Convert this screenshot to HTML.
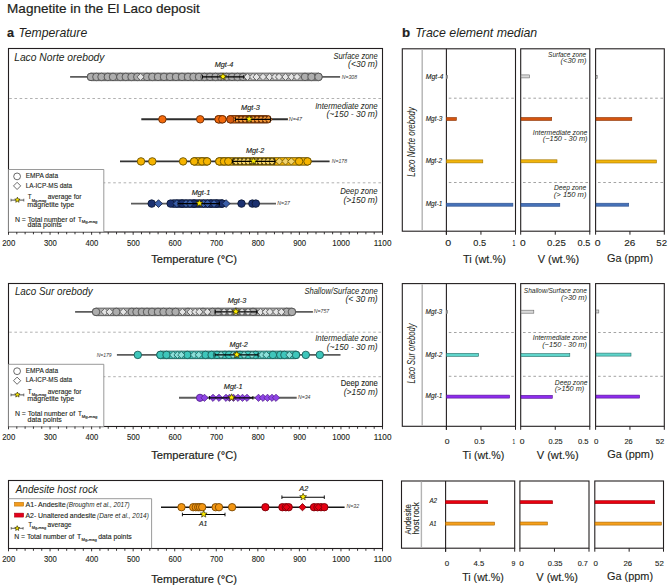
<!DOCTYPE html><html><head><meta charset="utf-8"><style>html,body{margin:0;padding:0;background:#fff;}svg{display:block;}</style></head><body><svg width="668" height="587" viewBox="0 0 668 587" font-family='"Liberation Sans", sans-serif'>
<rect width="668" height="587" fill="#fff"/>
<text x="7.09" y="12.60" font-size="13.2" text-anchor="start" textLength="192.61" lengthAdjust="spacingAndGlyphs" fill="#231f20" stroke="#231f20" stroke-width="0.2" >Magnetite in the El Laco deposit</text>
<text x="7.13" y="36.70" font-size="12.5" text-anchor="start" font-weight="bold" textLength="6.99" lengthAdjust="spacingAndGlyphs" fill="#231f20" stroke="#231f20" stroke-width="0.2" >a</text>
<text x="18.42" y="36.70" font-size="13" text-anchor="start" font-style="italic" textLength="68.83" lengthAdjust="spacingAndGlyphs" fill="#231f20" >Temperature</text>
<text x="402.02" y="36.80" font-size="12.5" text-anchor="start" font-weight="bold" textLength="8.12" lengthAdjust="spacingAndGlyphs" fill="#231f20" stroke="#231f20" stroke-width="0.2" >b</text>
<text x="415.20" y="36.50" font-size="13" text-anchor="start" font-style="italic" textLength="121.96" lengthAdjust="spacingAndGlyphs" fill="#231f20" >Trace element median</text>
<rect x="8.50" y="48.50" width="374.00" height="183.50" fill="none" stroke="#231f20" stroke-width="1.1" />
<text x="14.18" y="61.30" font-size="11.3" text-anchor="start" font-style="italic" textLength="90.30" lengthAdjust="spacingAndGlyphs" fill="#231f20" >Laco Norte orebody</text>
<line x1="9.20" y1="98.50" x2="382.00" y2="98.50" stroke="#9d9d9d" stroke-width="0.8" stroke-dasharray="2.6 2.6"/>
<line x1="9.20" y1="182.80" x2="382.00" y2="182.80" stroke="#9d9d9d" stroke-width="0.8" stroke-dasharray="2.6 2.6"/>
<text x="377.70" y="59.00" font-size="8.4" text-anchor="end" font-style="italic" textLength="44.30" lengthAdjust="spacingAndGlyphs" fill="#231f20" >Surface zone</text>
<text x="377.70" y="67.40" font-size="8.4" text-anchor="end" font-style="italic" textLength="29.60" lengthAdjust="spacingAndGlyphs" fill="#231f20" >(&lt;30 m)</text>
<text x="377.70" y="109.00" font-size="8.4" text-anchor="end" font-style="italic" textLength="62.50" lengthAdjust="spacingAndGlyphs" fill="#231f20" >Intermediate zone</text>
<text x="377.70" y="117.40" font-size="8.4" text-anchor="end" font-style="italic" textLength="51.30" lengthAdjust="spacingAndGlyphs" fill="#231f20" >(~150 - 30 m)</text>
<text x="377.70" y="193.80" font-size="8.4" text-anchor="end" font-style="italic" textLength="37.50" lengthAdjust="spacingAndGlyphs" fill="#231f20" >Deep zone</text>
<text x="377.70" y="202.60" font-size="8.4" text-anchor="end" font-style="italic" textLength="34.30" lengthAdjust="spacingAndGlyphs" fill="#231f20" >(&gt;150 m)</text>
<path d="M8.5 169.50 H103.8 V232.00 H8.5Z" fill="#fff" stroke="#808080" stroke-width="0.8"/>
<circle cx="17.10" cy="176.40" r="3.40" fill="#fff" stroke="#3a3a3a" stroke-width="0.75"/>
<path d="M13.50 185.90L17.10 182.30L20.70 185.90L17.10 189.50Z" fill="#fff" stroke="#3a3a3a" stroke-width="0.75"/>
<line x1="11.00" y1="200.10" x2="23.80" y2="200.10" stroke="#3a3a3a" stroke-width="0.9" />
<line x1="11.00" y1="198.70" x2="11.00" y2="201.50" stroke="#3a3a3a" stroke-width="0.7" />
<line x1="23.80" y1="198.70" x2="23.80" y2="201.50" stroke="#3a3a3a" stroke-width="0.7" />
<polygon points="17.40,197.20 18.14,198.98 20.06,199.13 18.60,200.39 19.05,202.27 17.40,201.26 15.75,202.27 16.20,200.39 14.74,199.13 16.66,198.98" fill="#ffee00" stroke="#3a3300" stroke-width="0.7"/>
<text x="25.67" y="177.90" font-size="7.2" text-anchor="start" textLength="32.43" lengthAdjust="spacingAndGlyphs" fill="#231f20" stroke="#231f20" stroke-width="0.12" >EMPA data</text>
<text x="25.68" y="187.50" font-size="7.2" text-anchor="start" textLength="46.42" lengthAdjust="spacingAndGlyphs" fill="#231f20" stroke="#231f20" stroke-width="0.12" >LA-ICP-MS data</text>
<text x="27.66" y="199.10" font-size="7.2" text-anchor="start" textLength="3.89" lengthAdjust="spacingAndGlyphs" fill="#231f20" stroke="#231f20" stroke-width="0.12" >T</text>
<text x="31.67" y="201.50" font-size="3.6" text-anchor="start" textLength="14.69" lengthAdjust="spacingAndGlyphs" fill="#231f20" stroke="#231f20" stroke-width="0.12" >Mg-mag</text>
<text x="47.82" y="199.10" font-size="7.2" text-anchor="start" textLength="33.59" lengthAdjust="spacingAndGlyphs" fill="#231f20" stroke="#231f20" stroke-width="0.12" >average for</text>
<text x="27.33" y="206.50" font-size="7.2" text-anchor="start" textLength="46.89" lengthAdjust="spacingAndGlyphs" fill="#231f20" stroke="#231f20" stroke-width="0.12" >magnetite type</text>
<text x="14.94" y="221.60" font-size="7.2" text-anchor="start" textLength="60.15" lengthAdjust="spacingAndGlyphs" fill="#231f20" stroke="#231f20" stroke-width="0.12" >N = Total number of</text>
<text x="77.96" y="221.60" font-size="7.2" text-anchor="start" textLength="3.89" lengthAdjust="spacingAndGlyphs" fill="#231f20" stroke="#231f20" stroke-width="0.12" >T</text>
<text x="81.75" y="223.40" font-size="3.6" text-anchor="start" textLength="15.62" lengthAdjust="spacingAndGlyphs" fill="#231f20" stroke="#231f20" stroke-width="0.12" >Mg-mag</text>
<text x="27.51" y="227.00" font-size="7.2" text-anchor="start" textLength="34.35" lengthAdjust="spacingAndGlyphs" fill="#231f20" stroke="#231f20" stroke-width="0.12" >data points</text>
<line x1="8.50" y1="232.00" x2="8.50" y2="234.80" stroke="#231f20" stroke-width="0.9" />
<line x1="16.81" y1="232.00" x2="16.81" y2="234.30" stroke="#231f20" stroke-width="0.9" />
<line x1="25.12" y1="232.00" x2="25.12" y2="234.30" stroke="#231f20" stroke-width="0.9" />
<line x1="33.43" y1="232.00" x2="33.43" y2="234.30" stroke="#231f20" stroke-width="0.9" />
<line x1="41.74" y1="232.00" x2="41.74" y2="234.30" stroke="#231f20" stroke-width="0.9" />
<line x1="50.06" y1="232.00" x2="50.06" y2="234.80" stroke="#231f20" stroke-width="0.9" />
<line x1="58.37" y1="232.00" x2="58.37" y2="234.30" stroke="#231f20" stroke-width="0.9" />
<line x1="66.68" y1="232.00" x2="66.68" y2="234.30" stroke="#231f20" stroke-width="0.9" />
<line x1="74.99" y1="232.00" x2="74.99" y2="234.30" stroke="#231f20" stroke-width="0.9" />
<line x1="83.30" y1="232.00" x2="83.30" y2="234.30" stroke="#231f20" stroke-width="0.9" />
<line x1="91.61" y1="232.00" x2="91.61" y2="234.80" stroke="#231f20" stroke-width="0.9" />
<line x1="99.92" y1="232.00" x2="99.92" y2="234.30" stroke="#231f20" stroke-width="0.9" />
<line x1="108.23" y1="232.00" x2="108.23" y2="234.30" stroke="#231f20" stroke-width="0.9" />
<line x1="116.54" y1="232.00" x2="116.54" y2="234.30" stroke="#231f20" stroke-width="0.9" />
<line x1="124.86" y1="232.00" x2="124.86" y2="234.30" stroke="#231f20" stroke-width="0.9" />
<line x1="133.17" y1="232.00" x2="133.17" y2="234.80" stroke="#231f20" stroke-width="0.9" />
<line x1="141.48" y1="232.00" x2="141.48" y2="234.30" stroke="#231f20" stroke-width="0.9" />
<line x1="149.79" y1="232.00" x2="149.79" y2="234.30" stroke="#231f20" stroke-width="0.9" />
<line x1="158.10" y1="232.00" x2="158.10" y2="234.30" stroke="#231f20" stroke-width="0.9" />
<line x1="166.41" y1="232.00" x2="166.41" y2="234.30" stroke="#231f20" stroke-width="0.9" />
<line x1="174.72" y1="232.00" x2="174.72" y2="234.80" stroke="#231f20" stroke-width="0.9" />
<line x1="183.03" y1="232.00" x2="183.03" y2="234.30" stroke="#231f20" stroke-width="0.9" />
<line x1="191.34" y1="232.00" x2="191.34" y2="234.30" stroke="#231f20" stroke-width="0.9" />
<line x1="199.66" y1="232.00" x2="199.66" y2="234.30" stroke="#231f20" stroke-width="0.9" />
<line x1="207.97" y1="232.00" x2="207.97" y2="234.30" stroke="#231f20" stroke-width="0.9" />
<line x1="216.28" y1="232.00" x2="216.28" y2="234.80" stroke="#231f20" stroke-width="0.9" />
<line x1="224.59" y1="232.00" x2="224.59" y2="234.30" stroke="#231f20" stroke-width="0.9" />
<line x1="232.90" y1="232.00" x2="232.90" y2="234.30" stroke="#231f20" stroke-width="0.9" />
<line x1="241.21" y1="232.00" x2="241.21" y2="234.30" stroke="#231f20" stroke-width="0.9" />
<line x1="249.52" y1="232.00" x2="249.52" y2="234.30" stroke="#231f20" stroke-width="0.9" />
<line x1="257.83" y1="232.00" x2="257.83" y2="234.80" stroke="#231f20" stroke-width="0.9" />
<line x1="266.14" y1="232.00" x2="266.14" y2="234.30" stroke="#231f20" stroke-width="0.9" />
<line x1="274.46" y1="232.00" x2="274.46" y2="234.30" stroke="#231f20" stroke-width="0.9" />
<line x1="282.77" y1="232.00" x2="282.77" y2="234.30" stroke="#231f20" stroke-width="0.9" />
<line x1="291.08" y1="232.00" x2="291.08" y2="234.30" stroke="#231f20" stroke-width="0.9" />
<line x1="299.39" y1="232.00" x2="299.39" y2="234.80" stroke="#231f20" stroke-width="0.9" />
<line x1="307.70" y1="232.00" x2="307.70" y2="234.30" stroke="#231f20" stroke-width="0.9" />
<line x1="316.01" y1="232.00" x2="316.01" y2="234.30" stroke="#231f20" stroke-width="0.9" />
<line x1="324.32" y1="232.00" x2="324.32" y2="234.30" stroke="#231f20" stroke-width="0.9" />
<line x1="332.63" y1="232.00" x2="332.63" y2="234.30" stroke="#231f20" stroke-width="0.9" />
<line x1="340.94" y1="232.00" x2="340.94" y2="234.80" stroke="#231f20" stroke-width="0.9" />
<line x1="349.26" y1="232.00" x2="349.26" y2="234.30" stroke="#231f20" stroke-width="0.9" />
<line x1="357.57" y1="232.00" x2="357.57" y2="234.30" stroke="#231f20" stroke-width="0.9" />
<line x1="365.88" y1="232.00" x2="365.88" y2="234.30" stroke="#231f20" stroke-width="0.9" />
<line x1="374.19" y1="232.00" x2="374.19" y2="234.30" stroke="#231f20" stroke-width="0.9" />
<line x1="382.50" y1="232.00" x2="382.50" y2="234.80" stroke="#231f20" stroke-width="0.9" />
<text x="2.26" y="246.40" font-size="8.6" text-anchor="start" textLength="13.00" lengthAdjust="spacingAndGlyphs" fill="#231f20" stroke="#231f20" stroke-width="0.12" >200</text>
<text x="43.91" y="246.40" font-size="8.6" text-anchor="start" textLength="12.90" lengthAdjust="spacingAndGlyphs" fill="#231f20" stroke="#231f20" stroke-width="0.12" >300</text>
<text x="85.59" y="246.40" font-size="8.6" text-anchor="start" textLength="12.77" lengthAdjust="spacingAndGlyphs" fill="#231f20" stroke="#231f20" stroke-width="0.12" >400</text>
<text x="127.01" y="246.40" font-size="8.6" text-anchor="start" textLength="12.91" lengthAdjust="spacingAndGlyphs" fill="#231f20" stroke="#231f20" stroke-width="0.12" >500</text>
<text x="168.48" y="246.40" font-size="8.6" text-anchor="start" textLength="13.00" lengthAdjust="spacingAndGlyphs" fill="#231f20" stroke="#231f20" stroke-width="0.12" >600</text>
<text x="210.03" y="246.40" font-size="8.6" text-anchor="start" textLength="13.00" lengthAdjust="spacingAndGlyphs" fill="#231f20" stroke="#231f20" stroke-width="0.12" >700</text>
<text x="251.65" y="246.40" font-size="8.6" text-anchor="start" textLength="12.94" lengthAdjust="spacingAndGlyphs" fill="#231f20" stroke="#231f20" stroke-width="0.12" >800</text>
<text x="293.17" y="246.40" font-size="8.6" text-anchor="start" textLength="12.97" lengthAdjust="spacingAndGlyphs" fill="#231f20" stroke="#231f20" stroke-width="0.12" >900</text>
<text x="332.29" y="246.40" font-size="8.6" text-anchor="start" textLength="17.61" lengthAdjust="spacingAndGlyphs" fill="#231f20" stroke="#231f20" stroke-width="0.12" >1000</text>
<text x="373.85" y="246.40" font-size="8.6" text-anchor="start" textLength="17.61" lengthAdjust="spacingAndGlyphs" fill="#231f20" stroke="#231f20" stroke-width="0.12" >1100</text>
<text x="151.15" y="263.20" font-size="11.6" text-anchor="start" textLength="85.93" lengthAdjust="spacingAndGlyphs" fill="#231f20" stroke="#231f20" stroke-width="0.2" >Temperature (°C)</text>
<rect x="8.50" y="283.50" width="374.00" height="143.00" fill="none" stroke="#231f20" stroke-width="1.1" />
<text x="14.90" y="295.20" font-size="11.3" text-anchor="start" font-style="italic" textLength="77.71" lengthAdjust="spacingAndGlyphs" fill="#231f20" >Laco Sur orebody</text>
<line x1="9.20" y1="332.20" x2="382.00" y2="332.20" stroke="#9d9d9d" stroke-width="0.8" stroke-dasharray="2.6 2.6"/>
<line x1="9.20" y1="376.70" x2="382.00" y2="376.70" stroke="#9d9d9d" stroke-width="0.8" stroke-dasharray="2.6 2.6"/>
<text x="377.70" y="294.20" font-size="8.4" text-anchor="end" font-style="italic" textLength="73.30" lengthAdjust="spacingAndGlyphs" fill="#231f20" >Shallow/Surface zone</text>
<text x="377.70" y="301.90" font-size="8.4" text-anchor="end" font-style="italic" textLength="32.20" lengthAdjust="spacingAndGlyphs" fill="#231f20" >(&lt; 30 m)</text>
<text x="377.70" y="341.40" font-size="8.4" text-anchor="end" font-style="italic" textLength="62.50" lengthAdjust="spacingAndGlyphs" fill="#231f20" >Intermediate zone</text>
<text x="377.70" y="350.20" font-size="8.4" text-anchor="end" font-style="italic" textLength="51.00" lengthAdjust="spacingAndGlyphs" fill="#231f20" >(~150 - 30 m)</text>
<text x="377.70" y="394.70" font-size="8.4" text-anchor="end" font-style="italic" textLength="33.90" lengthAdjust="spacingAndGlyphs" fill="#231f20" >(&gt;150 m)</text>
<text x="377.70" y="386.10" font-size="8.4" text-anchor="end" textLength="36.90" lengthAdjust="spacingAndGlyphs" fill="#231f20" stroke="#231f20" stroke-width="0.12" >Deep zone</text>
<path d="M8.5 364.30 H103.8 V426.80 H8.5Z" fill="#fff" stroke="#808080" stroke-width="0.8"/>
<circle cx="17.10" cy="371.20" r="3.40" fill="#fff" stroke="#3a3a3a" stroke-width="0.75"/>
<path d="M13.50 380.70L17.10 377.10L20.70 380.70L17.10 384.30Z" fill="#fff" stroke="#3a3a3a" stroke-width="0.75"/>
<line x1="11.00" y1="394.90" x2="23.80" y2="394.90" stroke="#3a3a3a" stroke-width="0.9" />
<line x1="11.00" y1="393.50" x2="11.00" y2="396.30" stroke="#3a3a3a" stroke-width="0.7" />
<line x1="23.80" y1="393.50" x2="23.80" y2="396.30" stroke="#3a3a3a" stroke-width="0.7" />
<polygon points="17.40,392.00 18.14,393.78 20.06,393.93 18.60,395.19 19.05,397.07 17.40,396.06 15.75,397.07 16.20,395.19 14.74,393.93 16.66,393.78" fill="#ffee00" stroke="#3a3300" stroke-width="0.7"/>
<text x="25.67" y="372.70" font-size="7.2" text-anchor="start" textLength="32.43" lengthAdjust="spacingAndGlyphs" fill="#231f20" stroke="#231f20" stroke-width="0.12" >EMPA data</text>
<text x="25.68" y="382.30" font-size="7.2" text-anchor="start" textLength="46.42" lengthAdjust="spacingAndGlyphs" fill="#231f20" stroke="#231f20" stroke-width="0.12" >LA-ICP-MS data</text>
<text x="27.66" y="393.90" font-size="7.2" text-anchor="start" textLength="3.89" lengthAdjust="spacingAndGlyphs" fill="#231f20" stroke="#231f20" stroke-width="0.12" >T</text>
<text x="31.67" y="396.30" font-size="3.6" text-anchor="start" textLength="14.69" lengthAdjust="spacingAndGlyphs" fill="#231f20" stroke="#231f20" stroke-width="0.12" >Mg-mag</text>
<text x="47.82" y="393.90" font-size="7.2" text-anchor="start" textLength="33.59" lengthAdjust="spacingAndGlyphs" fill="#231f20" stroke="#231f20" stroke-width="0.12" >average for</text>
<text x="27.33" y="401.30" font-size="7.2" text-anchor="start" textLength="46.89" lengthAdjust="spacingAndGlyphs" fill="#231f20" stroke="#231f20" stroke-width="0.12" >magnetite type</text>
<text x="14.94" y="416.40" font-size="7.2" text-anchor="start" textLength="60.15" lengthAdjust="spacingAndGlyphs" fill="#231f20" stroke="#231f20" stroke-width="0.12" >N = Total number of</text>
<text x="77.96" y="416.40" font-size="7.2" text-anchor="start" textLength="3.89" lengthAdjust="spacingAndGlyphs" fill="#231f20" stroke="#231f20" stroke-width="0.12" >T</text>
<text x="81.75" y="418.20" font-size="3.6" text-anchor="start" textLength="15.62" lengthAdjust="spacingAndGlyphs" fill="#231f20" stroke="#231f20" stroke-width="0.12" >Mg-mag</text>
<text x="27.51" y="421.80" font-size="7.2" text-anchor="start" textLength="34.35" lengthAdjust="spacingAndGlyphs" fill="#231f20" stroke="#231f20" stroke-width="0.12" >data points</text>
<line x1="8.50" y1="426.50" x2="8.50" y2="429.30" stroke="#231f20" stroke-width="0.9" />
<line x1="16.81" y1="426.50" x2="16.81" y2="428.80" stroke="#231f20" stroke-width="0.9" />
<line x1="25.12" y1="426.50" x2="25.12" y2="428.80" stroke="#231f20" stroke-width="0.9" />
<line x1="33.43" y1="426.50" x2="33.43" y2="428.80" stroke="#231f20" stroke-width="0.9" />
<line x1="41.74" y1="426.50" x2="41.74" y2="428.80" stroke="#231f20" stroke-width="0.9" />
<line x1="50.06" y1="426.50" x2="50.06" y2="429.30" stroke="#231f20" stroke-width="0.9" />
<line x1="58.37" y1="426.50" x2="58.37" y2="428.80" stroke="#231f20" stroke-width="0.9" />
<line x1="66.68" y1="426.50" x2="66.68" y2="428.80" stroke="#231f20" stroke-width="0.9" />
<line x1="74.99" y1="426.50" x2="74.99" y2="428.80" stroke="#231f20" stroke-width="0.9" />
<line x1="83.30" y1="426.50" x2="83.30" y2="428.80" stroke="#231f20" stroke-width="0.9" />
<line x1="91.61" y1="426.50" x2="91.61" y2="429.30" stroke="#231f20" stroke-width="0.9" />
<line x1="99.92" y1="426.50" x2="99.92" y2="428.80" stroke="#231f20" stroke-width="0.9" />
<line x1="108.23" y1="426.50" x2="108.23" y2="428.80" stroke="#231f20" stroke-width="0.9" />
<line x1="116.54" y1="426.50" x2="116.54" y2="428.80" stroke="#231f20" stroke-width="0.9" />
<line x1="124.86" y1="426.50" x2="124.86" y2="428.80" stroke="#231f20" stroke-width="0.9" />
<line x1="133.17" y1="426.50" x2="133.17" y2="429.30" stroke="#231f20" stroke-width="0.9" />
<line x1="141.48" y1="426.50" x2="141.48" y2="428.80" stroke="#231f20" stroke-width="0.9" />
<line x1="149.79" y1="426.50" x2="149.79" y2="428.80" stroke="#231f20" stroke-width="0.9" />
<line x1="158.10" y1="426.50" x2="158.10" y2="428.80" stroke="#231f20" stroke-width="0.9" />
<line x1="166.41" y1="426.50" x2="166.41" y2="428.80" stroke="#231f20" stroke-width="0.9" />
<line x1="174.72" y1="426.50" x2="174.72" y2="429.30" stroke="#231f20" stroke-width="0.9" />
<line x1="183.03" y1="426.50" x2="183.03" y2="428.80" stroke="#231f20" stroke-width="0.9" />
<line x1="191.34" y1="426.50" x2="191.34" y2="428.80" stroke="#231f20" stroke-width="0.9" />
<line x1="199.66" y1="426.50" x2="199.66" y2="428.80" stroke="#231f20" stroke-width="0.9" />
<line x1="207.97" y1="426.50" x2="207.97" y2="428.80" stroke="#231f20" stroke-width="0.9" />
<line x1="216.28" y1="426.50" x2="216.28" y2="429.30" stroke="#231f20" stroke-width="0.9" />
<line x1="224.59" y1="426.50" x2="224.59" y2="428.80" stroke="#231f20" stroke-width="0.9" />
<line x1="232.90" y1="426.50" x2="232.90" y2="428.80" stroke="#231f20" stroke-width="0.9" />
<line x1="241.21" y1="426.50" x2="241.21" y2="428.80" stroke="#231f20" stroke-width="0.9" />
<line x1="249.52" y1="426.50" x2="249.52" y2="428.80" stroke="#231f20" stroke-width="0.9" />
<line x1="257.83" y1="426.50" x2="257.83" y2="429.30" stroke="#231f20" stroke-width="0.9" />
<line x1="266.14" y1="426.50" x2="266.14" y2="428.80" stroke="#231f20" stroke-width="0.9" />
<line x1="274.46" y1="426.50" x2="274.46" y2="428.80" stroke="#231f20" stroke-width="0.9" />
<line x1="282.77" y1="426.50" x2="282.77" y2="428.80" stroke="#231f20" stroke-width="0.9" />
<line x1="291.08" y1="426.50" x2="291.08" y2="428.80" stroke="#231f20" stroke-width="0.9" />
<line x1="299.39" y1="426.50" x2="299.39" y2="429.30" stroke="#231f20" stroke-width="0.9" />
<line x1="307.70" y1="426.50" x2="307.70" y2="428.80" stroke="#231f20" stroke-width="0.9" />
<line x1="316.01" y1="426.50" x2="316.01" y2="428.80" stroke="#231f20" stroke-width="0.9" />
<line x1="324.32" y1="426.50" x2="324.32" y2="428.80" stroke="#231f20" stroke-width="0.9" />
<line x1="332.63" y1="426.50" x2="332.63" y2="428.80" stroke="#231f20" stroke-width="0.9" />
<line x1="340.94" y1="426.50" x2="340.94" y2="429.30" stroke="#231f20" stroke-width="0.9" />
<line x1="349.26" y1="426.50" x2="349.26" y2="428.80" stroke="#231f20" stroke-width="0.9" />
<line x1="357.57" y1="426.50" x2="357.57" y2="428.80" stroke="#231f20" stroke-width="0.9" />
<line x1="365.88" y1="426.50" x2="365.88" y2="428.80" stroke="#231f20" stroke-width="0.9" />
<line x1="374.19" y1="426.50" x2="374.19" y2="428.80" stroke="#231f20" stroke-width="0.9" />
<line x1="382.50" y1="426.50" x2="382.50" y2="429.30" stroke="#231f20" stroke-width="0.9" />
<text x="2.26" y="440.40" font-size="8.6" text-anchor="start" textLength="13.00" lengthAdjust="spacingAndGlyphs" fill="#231f20" stroke="#231f20" stroke-width="0.12" >200</text>
<text x="43.91" y="440.40" font-size="8.6" text-anchor="start" textLength="12.90" lengthAdjust="spacingAndGlyphs" fill="#231f20" stroke="#231f20" stroke-width="0.12" >300</text>
<text x="85.59" y="440.40" font-size="8.6" text-anchor="start" textLength="12.77" lengthAdjust="spacingAndGlyphs" fill="#231f20" stroke="#231f20" stroke-width="0.12" >400</text>
<text x="127.01" y="440.40" font-size="8.6" text-anchor="start" textLength="12.91" lengthAdjust="spacingAndGlyphs" fill="#231f20" stroke="#231f20" stroke-width="0.12" >500</text>
<text x="168.48" y="440.40" font-size="8.6" text-anchor="start" textLength="13.00" lengthAdjust="spacingAndGlyphs" fill="#231f20" stroke="#231f20" stroke-width="0.12" >600</text>
<text x="210.03" y="440.40" font-size="8.6" text-anchor="start" textLength="13.00" lengthAdjust="spacingAndGlyphs" fill="#231f20" stroke="#231f20" stroke-width="0.12" >700</text>
<text x="251.65" y="440.40" font-size="8.6" text-anchor="start" textLength="12.94" lengthAdjust="spacingAndGlyphs" fill="#231f20" stroke="#231f20" stroke-width="0.12" >800</text>
<text x="293.17" y="440.40" font-size="8.6" text-anchor="start" textLength="12.97" lengthAdjust="spacingAndGlyphs" fill="#231f20" stroke="#231f20" stroke-width="0.12" >900</text>
<text x="332.29" y="440.40" font-size="8.6" text-anchor="start" textLength="17.61" lengthAdjust="spacingAndGlyphs" fill="#231f20" stroke="#231f20" stroke-width="0.12" >1000</text>
<text x="373.85" y="440.40" font-size="8.6" text-anchor="start" textLength="17.61" lengthAdjust="spacingAndGlyphs" fill="#231f20" stroke="#231f20" stroke-width="0.12" >1100</text>
<text x="151.15" y="458.70" font-size="11.6" text-anchor="start" textLength="85.93" lengthAdjust="spacingAndGlyphs" fill="#231f20" stroke="#231f20" stroke-width="0.2" >Temperature (°C)</text>
<rect x="8.50" y="480.50" width="374.00" height="68.00" fill="none" stroke="#231f20" stroke-width="1.1" />
<text x="15.69" y="492.80" font-size="11.8" text-anchor="start" font-style="italic" textLength="82.19" lengthAdjust="spacingAndGlyphs" fill="#231f20" >Andesite host rock</text>
<path d="M8.5 498.7 H151.6 V548.5" fill="none" stroke="#808080" stroke-width="0.8"/>
<rect x="14.40" y="502.30" width="9.30" height="3.80" fill="#f39c1e" stroke="#b36b00" stroke-width="0.5" />
<rect x="14.40" y="513.10" width="9.30" height="4.00" fill="#e3001b" stroke="#a00010" stroke-width="0.5" />
<text x="25.49" y="507.10" font-size="7.2" text-anchor="start" textLength="40.13" lengthAdjust="spacingAndGlyphs" fill="#231f20" stroke="#231f20" stroke-width="0.12" >A1- Andesite</text>
<text x="66.60" y="507.10" font-size="6.6" text-anchor="start" font-style="italic" textLength="63.07" lengthAdjust="spacingAndGlyphs" fill="#231f20" >(Broughm et al., 2017)</text>
<text x="25.49" y="517.90" font-size="7.2" text-anchor="start" textLength="70.42" lengthAdjust="spacingAndGlyphs" fill="#231f20" stroke="#231f20" stroke-width="0.12" >A2- Unaltered andesite</text>
<text x="97.10" y="517.90" font-size="6.6" text-anchor="start" font-style="italic" textLength="51.68" lengthAdjust="spacingAndGlyphs" fill="#231f20" >(Dare et al., 2014)</text>
<line x1="11.20" y1="528.30" x2="23.10" y2="528.30" stroke="#3a3a3a" stroke-width="0.8" />
<line x1="11.20" y1="527.00" x2="11.20" y2="529.60" stroke="#3a3a3a" stroke-width="0.7" />
<line x1="23.10" y1="527.00" x2="23.10" y2="529.60" stroke="#3a3a3a" stroke-width="0.7" />
<polygon points="17.20,525.70 17.89,527.35 19.67,527.50 18.31,528.66 18.73,530.40 17.20,529.47 15.67,530.40 16.09,528.66 14.73,527.50 16.51,527.35" fill="#ffee00" stroke="#3a3300" stroke-width="0.7"/>
<text x="28.26" y="527.40" font-size="7.2" text-anchor="start" textLength="3.89" lengthAdjust="spacingAndGlyphs" fill="#231f20" stroke="#231f20" stroke-width="0.12" >T</text>
<text x="31.68" y="529.40" font-size="3.6" text-anchor="start" textLength="14.48" lengthAdjust="spacingAndGlyphs" fill="#231f20" stroke="#231f20" stroke-width="0.12" >Mg-mag</text>
<text x="47.62" y="527.40" font-size="7.2" text-anchor="start" textLength="23.87" lengthAdjust="spacingAndGlyphs" fill="#231f20" stroke="#231f20" stroke-width="0.12" >average</text>
<text x="14.25" y="539.40" font-size="7.0" text-anchor="start" textLength="59.84" lengthAdjust="spacingAndGlyphs" fill="#231f20" stroke="#231f20" stroke-width="0.12" >N = Total number of</text>
<text x="76.95" y="539.40" font-size="7.0" text-anchor="start" textLength="4.21" lengthAdjust="spacingAndGlyphs" fill="#231f20" stroke="#231f20" stroke-width="0.12" >T</text>
<text x="81.56" y="541.20" font-size="3.6" text-anchor="start" textLength="15.21" lengthAdjust="spacingAndGlyphs" fill="#231f20" stroke="#231f20" stroke-width="0.12" >Mg-mag</text>
<text x="98.21" y="539.40" font-size="7.0" text-anchor="start" textLength="33.54" lengthAdjust="spacingAndGlyphs" fill="#231f20" stroke="#231f20" stroke-width="0.12" >data points</text>
<line x1="8.50" y1="548.50" x2="8.50" y2="551.30" stroke="#231f20" stroke-width="0.9" />
<line x1="16.81" y1="548.50" x2="16.81" y2="550.80" stroke="#231f20" stroke-width="0.9" />
<line x1="25.12" y1="548.50" x2="25.12" y2="550.80" stroke="#231f20" stroke-width="0.9" />
<line x1="33.43" y1="548.50" x2="33.43" y2="550.80" stroke="#231f20" stroke-width="0.9" />
<line x1="41.74" y1="548.50" x2="41.74" y2="550.80" stroke="#231f20" stroke-width="0.9" />
<line x1="50.06" y1="548.50" x2="50.06" y2="551.30" stroke="#231f20" stroke-width="0.9" />
<line x1="58.37" y1="548.50" x2="58.37" y2="550.80" stroke="#231f20" stroke-width="0.9" />
<line x1="66.68" y1="548.50" x2="66.68" y2="550.80" stroke="#231f20" stroke-width="0.9" />
<line x1="74.99" y1="548.50" x2="74.99" y2="550.80" stroke="#231f20" stroke-width="0.9" />
<line x1="83.30" y1="548.50" x2="83.30" y2="550.80" stroke="#231f20" stroke-width="0.9" />
<line x1="91.61" y1="548.50" x2="91.61" y2="551.30" stroke="#231f20" stroke-width="0.9" />
<line x1="99.92" y1="548.50" x2="99.92" y2="550.80" stroke="#231f20" stroke-width="0.9" />
<line x1="108.23" y1="548.50" x2="108.23" y2="550.80" stroke="#231f20" stroke-width="0.9" />
<line x1="116.54" y1="548.50" x2="116.54" y2="550.80" stroke="#231f20" stroke-width="0.9" />
<line x1="124.86" y1="548.50" x2="124.86" y2="550.80" stroke="#231f20" stroke-width="0.9" />
<line x1="133.17" y1="548.50" x2="133.17" y2="551.30" stroke="#231f20" stroke-width="0.9" />
<line x1="141.48" y1="548.50" x2="141.48" y2="550.80" stroke="#231f20" stroke-width="0.9" />
<line x1="149.79" y1="548.50" x2="149.79" y2="550.80" stroke="#231f20" stroke-width="0.9" />
<line x1="158.10" y1="548.50" x2="158.10" y2="550.80" stroke="#231f20" stroke-width="0.9" />
<line x1="166.41" y1="548.50" x2="166.41" y2="550.80" stroke="#231f20" stroke-width="0.9" />
<line x1="174.72" y1="548.50" x2="174.72" y2="551.30" stroke="#231f20" stroke-width="0.9" />
<line x1="183.03" y1="548.50" x2="183.03" y2="550.80" stroke="#231f20" stroke-width="0.9" />
<line x1="191.34" y1="548.50" x2="191.34" y2="550.80" stroke="#231f20" stroke-width="0.9" />
<line x1="199.66" y1="548.50" x2="199.66" y2="550.80" stroke="#231f20" stroke-width="0.9" />
<line x1="207.97" y1="548.50" x2="207.97" y2="550.80" stroke="#231f20" stroke-width="0.9" />
<line x1="216.28" y1="548.50" x2="216.28" y2="551.30" stroke="#231f20" stroke-width="0.9" />
<line x1="224.59" y1="548.50" x2="224.59" y2="550.80" stroke="#231f20" stroke-width="0.9" />
<line x1="232.90" y1="548.50" x2="232.90" y2="550.80" stroke="#231f20" stroke-width="0.9" />
<line x1="241.21" y1="548.50" x2="241.21" y2="550.80" stroke="#231f20" stroke-width="0.9" />
<line x1="249.52" y1="548.50" x2="249.52" y2="550.80" stroke="#231f20" stroke-width="0.9" />
<line x1="257.83" y1="548.50" x2="257.83" y2="551.30" stroke="#231f20" stroke-width="0.9" />
<line x1="266.14" y1="548.50" x2="266.14" y2="550.80" stroke="#231f20" stroke-width="0.9" />
<line x1="274.46" y1="548.50" x2="274.46" y2="550.80" stroke="#231f20" stroke-width="0.9" />
<line x1="282.77" y1="548.50" x2="282.77" y2="550.80" stroke="#231f20" stroke-width="0.9" />
<line x1="291.08" y1="548.50" x2="291.08" y2="550.80" stroke="#231f20" stroke-width="0.9" />
<line x1="299.39" y1="548.50" x2="299.39" y2="551.30" stroke="#231f20" stroke-width="0.9" />
<line x1="307.70" y1="548.50" x2="307.70" y2="550.80" stroke="#231f20" stroke-width="0.9" />
<line x1="316.01" y1="548.50" x2="316.01" y2="550.80" stroke="#231f20" stroke-width="0.9" />
<line x1="324.32" y1="548.50" x2="324.32" y2="550.80" stroke="#231f20" stroke-width="0.9" />
<line x1="332.63" y1="548.50" x2="332.63" y2="550.80" stroke="#231f20" stroke-width="0.9" />
<line x1="340.94" y1="548.50" x2="340.94" y2="551.30" stroke="#231f20" stroke-width="0.9" />
<line x1="349.26" y1="548.50" x2="349.26" y2="550.80" stroke="#231f20" stroke-width="0.9" />
<line x1="357.57" y1="548.50" x2="357.57" y2="550.80" stroke="#231f20" stroke-width="0.9" />
<line x1="365.88" y1="548.50" x2="365.88" y2="550.80" stroke="#231f20" stroke-width="0.9" />
<line x1="374.19" y1="548.50" x2="374.19" y2="550.80" stroke="#231f20" stroke-width="0.9" />
<line x1="382.50" y1="548.50" x2="382.50" y2="551.30" stroke="#231f20" stroke-width="0.9" />
<text x="2.26" y="562.40" font-size="8.6" text-anchor="start" textLength="13.00" lengthAdjust="spacingAndGlyphs" fill="#231f20" stroke="#231f20" stroke-width="0.12" >200</text>
<text x="43.91" y="562.40" font-size="8.6" text-anchor="start" textLength="12.90" lengthAdjust="spacingAndGlyphs" fill="#231f20" stroke="#231f20" stroke-width="0.12" >300</text>
<text x="85.59" y="562.40" font-size="8.6" text-anchor="start" textLength="12.77" lengthAdjust="spacingAndGlyphs" fill="#231f20" stroke="#231f20" stroke-width="0.12" >400</text>
<text x="127.01" y="562.40" font-size="8.6" text-anchor="start" textLength="12.91" lengthAdjust="spacingAndGlyphs" fill="#231f20" stroke="#231f20" stroke-width="0.12" >500</text>
<text x="168.48" y="562.40" font-size="8.6" text-anchor="start" textLength="13.00" lengthAdjust="spacingAndGlyphs" fill="#231f20" stroke="#231f20" stroke-width="0.12" >600</text>
<text x="210.03" y="562.40" font-size="8.6" text-anchor="start" textLength="13.00" lengthAdjust="spacingAndGlyphs" fill="#231f20" stroke="#231f20" stroke-width="0.12" >700</text>
<text x="251.65" y="562.40" font-size="8.6" text-anchor="start" textLength="12.94" lengthAdjust="spacingAndGlyphs" fill="#231f20" stroke="#231f20" stroke-width="0.12" >800</text>
<text x="293.17" y="562.40" font-size="8.6" text-anchor="start" textLength="12.97" lengthAdjust="spacingAndGlyphs" fill="#231f20" stroke="#231f20" stroke-width="0.12" >900</text>
<text x="332.29" y="562.40" font-size="8.6" text-anchor="start" textLength="17.61" lengthAdjust="spacingAndGlyphs" fill="#231f20" stroke="#231f20" stroke-width="0.12" >1000</text>
<text x="373.85" y="562.40" font-size="8.6" text-anchor="start" textLength="17.61" lengthAdjust="spacingAndGlyphs" fill="#231f20" stroke="#231f20" stroke-width="0.12" >1100</text>
<text x="151.15" y="582.60" font-size="11.6" text-anchor="start" textLength="85.93" lengthAdjust="spacingAndGlyphs" fill="#231f20" stroke="#231f20" stroke-width="0.2" >Temperature (°C)</text>
<line x1="70.10" y1="76.90" x2="340.10" y2="76.90" stroke="#5c5c5c" stroke-width="1.9" />
<rect x="87.25" y="73.15" width="235.00" height="7.50" rx="3.75" fill="#adadad" stroke="#505050" stroke-width="0.9"/>
<rect x="202.50" y="73.45" width="41.20" height="6.90" fill="#6a6a6a"/>
<circle cx="91.00" cy="76.90" r="3.75" fill="#adadad" stroke="#505050" stroke-width="0.9"/>
<circle cx="96.40" cy="76.90" r="3.75" fill="#adadad" stroke="#505050" stroke-width="0.9"/>
<circle cx="101.50" cy="76.90" r="3.75" fill="#adadad" stroke="#505050" stroke-width="0.9"/>
<circle cx="107.80" cy="76.90" r="3.75" fill="#adadad" stroke="#505050" stroke-width="0.9"/>
<circle cx="113.00" cy="76.90" r="3.75" fill="#adadad" stroke="#505050" stroke-width="0.9"/>
<circle cx="120.30" cy="76.90" r="3.75" fill="#adadad" stroke="#505050" stroke-width="0.9"/>
<circle cx="125.80" cy="76.90" r="3.75" fill="#adadad" stroke="#505050" stroke-width="0.9"/>
<circle cx="131.50" cy="76.90" r="3.75" fill="#adadad" stroke="#505050" stroke-width="0.9"/>
<circle cx="137.30" cy="76.90" r="3.75" fill="#adadad" stroke="#505050" stroke-width="0.9"/>
<circle cx="147.00" cy="76.90" r="3.75" fill="#adadad" stroke="#505050" stroke-width="0.9"/>
<circle cx="152.30" cy="76.90" r="3.75" fill="#adadad" stroke="#505050" stroke-width="0.9"/>
<circle cx="158.00" cy="76.90" r="3.75" fill="#adadad" stroke="#505050" stroke-width="0.9"/>
<circle cx="164.00" cy="76.90" r="3.75" fill="#adadad" stroke="#505050" stroke-width="0.9"/>
<circle cx="170.00" cy="76.90" r="3.75" fill="#adadad" stroke="#505050" stroke-width="0.9"/>
<circle cx="176.00" cy="76.90" r="3.75" fill="#adadad" stroke="#505050" stroke-width="0.9"/>
<circle cx="182.00" cy="76.90" r="3.75" fill="#adadad" stroke="#505050" stroke-width="0.9"/>
<circle cx="188.00" cy="76.90" r="3.75" fill="#adadad" stroke="#505050" stroke-width="0.9"/>
<circle cx="193.50" cy="76.90" r="3.75" fill="#adadad" stroke="#505050" stroke-width="0.9"/>
<circle cx="199.00" cy="76.90" r="3.75" fill="#adadad" stroke="#505050" stroke-width="0.9"/>
<circle cx="204.50" cy="76.90" r="3.75" fill="#adadad" stroke="#505050" stroke-width="0.9"/>
<circle cx="210.00" cy="76.90" r="3.75" fill="#adadad" stroke="#505050" stroke-width="0.9"/>
<circle cx="215.50" cy="76.90" r="3.75" fill="#adadad" stroke="#505050" stroke-width="0.9"/>
<circle cx="221.00" cy="76.90" r="3.75" fill="#adadad" stroke="#505050" stroke-width="0.9"/>
<circle cx="226.50" cy="76.90" r="3.75" fill="#adadad" stroke="#505050" stroke-width="0.9"/>
<circle cx="232.00" cy="76.90" r="3.75" fill="#adadad" stroke="#505050" stroke-width="0.9"/>
<circle cx="237.50" cy="76.90" r="3.75" fill="#adadad" stroke="#505050" stroke-width="0.9"/>
<circle cx="243.00" cy="76.90" r="3.75" fill="#adadad" stroke="#505050" stroke-width="0.9"/>
<circle cx="305.00" cy="76.90" r="3.75" fill="#adadad" stroke="#505050" stroke-width="0.9"/>
<circle cx="311.50" cy="76.90" r="3.75" fill="#adadad" stroke="#505050" stroke-width="0.9"/>
<circle cx="318.50" cy="76.90" r="3.75" fill="#adadad" stroke="#505050" stroke-width="0.9"/>
<path d="M137.00 76.90L140.60 73.30L144.20 76.90L140.60 80.50Z" fill="#e4e4e4" stroke="#505050" stroke-width="0.8"/>
<path d="M243.90 76.90L247.50 73.30L251.10 76.90L247.50 80.50Z" fill="#e4e4e4" stroke="#505050" stroke-width="0.8"/>
<path d="M249.40 76.90L253.00 73.30L256.60 76.90L253.00 80.50Z" fill="#e4e4e4" stroke="#505050" stroke-width="0.8"/>
<path d="M252.90 76.90L256.50 73.30L260.10 76.90L256.50 80.50Z" fill="#e4e4e4" stroke="#505050" stroke-width="0.8"/>
<path d="M259.40 76.90L263.00 73.30L266.60 76.90L263.00 80.50Z" fill="#e4e4e4" stroke="#505050" stroke-width="0.8"/>
<path d="M265.90 76.90L269.50 73.30L273.10 76.90L269.50 80.50Z" fill="#e4e4e4" stroke="#505050" stroke-width="0.8"/>
<path d="M271.40 76.90L275.00 73.30L278.60 76.90L275.00 80.50Z" fill="#e4e4e4" stroke="#505050" stroke-width="0.8"/>
<path d="M275.40 76.90L279.00 73.30L282.60 76.90L279.00 80.50Z" fill="#e4e4e4" stroke="#505050" stroke-width="0.8"/>
<path d="M281.90 76.90L285.50 73.30L289.10 76.90L285.50 80.50Z" fill="#e4e4e4" stroke="#505050" stroke-width="0.8"/>
<path d="M287.80 76.90L291.40 73.30L295.00 76.90L291.40 80.50Z" fill="#e4e4e4" stroke="#505050" stroke-width="0.8"/>
<path d="M293.40 76.90L297.00 73.30L300.60 76.90L297.00 80.50Z" fill="#e4e4e4" stroke="#505050" stroke-width="0.8"/>
<line x1="202.50" y1="76.90" x2="243.70" y2="76.90" stroke="#000" stroke-width="1.2" />
<line x1="202.50" y1="75.10" x2="202.50" y2="78.70" stroke="#000" stroke-width="0.9" />
<line x1="243.70" y1="75.10" x2="243.70" y2="78.70" stroke="#000" stroke-width="0.9" />
<polygon points="223.00,72.90 223.98,75.25 226.52,75.46 224.58,77.11 225.17,79.59 223.00,78.27 220.83,79.59 221.42,77.11 219.48,75.46 222.02,75.25" fill="#ffee00" stroke="#3a3300" stroke-width="0.7"/>
<text x="214.67" y="66.70" font-size="7.6" text-anchor="start" font-style="italic" textLength="18.70" lengthAdjust="spacingAndGlyphs" fill="#231f20" stroke="#231f20" stroke-width="0.15">Mgt-4</text>
<text x="341.74" y="78.80" font-size="6.0" text-anchor="start" font-style="italic" textLength="15.29" lengthAdjust="spacingAndGlyphs" fill="#3a3a3a" >N=308</text>
<line x1="141.30" y1="119.30" x2="287.90" y2="119.30" stroke="#2e2e2e" stroke-width="1.9" />
<rect x="214.85" y="115.55" width="11.30" height="7.50" rx="3.75" fill="#e0670e" stroke="#6a2c05" stroke-width="0.9"/>
<rect x="226.65" y="115.55" width="44.60" height="7.50" rx="3.75" fill="#e0670e" stroke="#6a2c05" stroke-width="0.9"/>
<rect x="235.50" y="115.85" width="35.00" height="6.90" fill="#5a2a08"/>
<circle cx="162.40" cy="119.30" r="3.75" fill="#f46a0c" stroke="#6a2c05" stroke-width="0.9"/>
<circle cx="200.20" cy="119.30" r="3.75" fill="#f46a0c" stroke="#6a2c05" stroke-width="0.9"/>
<circle cx="218.60" cy="119.30" r="3.75" fill="#f46a0c" stroke="#6a2c05" stroke-width="0.9"/>
<circle cx="222.40" cy="119.30" r="3.75" fill="#f46a0c" stroke="#6a2c05" stroke-width="0.9"/>
<circle cx="230.40" cy="119.30" r="3.75" fill="#d55a10" stroke="#6a2c05" stroke-width="0.9"/>
<path d="M233.40 119.30L237.00 115.70L240.60 119.30L237.00 122.90Z" fill="#f29a3a" stroke="#6a2c05" stroke-width="0.8"/>
<path d="M237.40 119.30L241.00 115.70L244.60 119.30L241.00 122.90Z" fill="#f29a3a" stroke="#6a2c05" stroke-width="0.8"/>
<path d="M241.40 119.30L245.00 115.70L248.60 119.30L245.00 122.90Z" fill="#f29a3a" stroke="#6a2c05" stroke-width="0.8"/>
<path d="M245.40 119.30L249.00 115.70L252.60 119.30L249.00 122.90Z" fill="#f29a3a" stroke="#6a2c05" stroke-width="0.8"/>
<path d="M249.40 119.30L253.00 115.70L256.60 119.30L253.00 122.90Z" fill="#f29a3a" stroke="#6a2c05" stroke-width="0.8"/>
<path d="M253.40 119.30L257.00 115.70L260.60 119.30L257.00 122.90Z" fill="#f29a3a" stroke="#6a2c05" stroke-width="0.8"/>
<path d="M257.40 119.30L261.00 115.70L264.60 119.30L261.00 122.90Z" fill="#f29a3a" stroke="#6a2c05" stroke-width="0.8"/>
<path d="M261.40 119.30L265.00 115.70L268.60 119.30L265.00 122.90Z" fill="#f29a3a" stroke="#6a2c05" stroke-width="0.8"/>
<path d="M264.90 119.30L268.50 115.70L272.10 119.30L268.50 122.90Z" fill="#f29a3a" stroke="#6a2c05" stroke-width="0.8"/>
<line x1="235.50" y1="119.30" x2="270.50" y2="119.30" stroke="#000" stroke-width="1.2" />
<line x1="235.50" y1="117.50" x2="235.50" y2="121.10" stroke="#000" stroke-width="0.9" />
<line x1="270.50" y1="117.50" x2="270.50" y2="121.10" stroke="#000" stroke-width="0.9" />
<polygon points="249.20,115.30 250.18,117.65 252.72,117.86 250.78,119.51 251.37,121.99 249.20,120.67 247.03,121.99 247.62,119.51 245.68,117.86 248.22,117.65" fill="#ffee00" stroke="#3a3300" stroke-width="0.7"/>
<text x="241.07" y="109.70" font-size="7.6" text-anchor="start" font-style="italic" textLength="18.89" lengthAdjust="spacingAndGlyphs" fill="#231f20" stroke="#231f20" stroke-width="0.15">Mgt-3</text>
<text x="288.83" y="120.80" font-size="6.0" text-anchor="start" font-style="italic" textLength="13.10" lengthAdjust="spacingAndGlyphs" fill="#3a3a3a" >N=47</text>
<line x1="120.00" y1="161.40" x2="329.60" y2="161.40" stroke="#333333" stroke-width="1.9" />
<rect x="190.45" y="157.65" width="20.40" height="7.50" rx="3.75" fill="#f6b400" stroke="#6b5200" stroke-width="0.9"/>
<rect x="215.55" y="157.65" width="95.70" height="7.50" rx="3.75" fill="#f6b400" stroke="#6b5200" stroke-width="0.9"/>
<rect x="232.50" y="157.95" width="42.60" height="6.90" fill="#4a3f18"/>
<circle cx="141.00" cy="161.40" r="3.75" fill="#f6b400" stroke="#6b5200" stroke-width="0.9"/>
<circle cx="152.30" cy="161.40" r="3.75" fill="#f6b400" stroke="#6b5200" stroke-width="0.9"/>
<circle cx="183.10" cy="161.40" r="3.75" fill="#f6b400" stroke="#6b5200" stroke-width="0.9"/>
<circle cx="194.20" cy="161.40" r="3.75" fill="#f6b400" stroke="#6b5200" stroke-width="0.9"/>
<circle cx="202.00" cy="161.40" r="3.75" fill="#f6b400" stroke="#6b5200" stroke-width="0.9"/>
<circle cx="207.10" cy="161.40" r="3.75" fill="#f6b400" stroke="#6b5200" stroke-width="0.9"/>
<circle cx="219.30" cy="161.40" r="3.75" fill="#f6b400" stroke="#6b5200" stroke-width="0.9"/>
<circle cx="224.00" cy="161.40" r="3.75" fill="#f6b400" stroke="#6b5200" stroke-width="0.9"/>
<circle cx="228.30" cy="161.40" r="3.75" fill="#f6b400" stroke="#6b5200" stroke-width="0.9"/>
<circle cx="299.10" cy="161.40" r="3.75" fill="#f6b400" stroke="#6b5200" stroke-width="0.9"/>
<circle cx="307.50" cy="161.40" r="3.75" fill="#f6b400" stroke="#6b5200" stroke-width="0.9"/>
<path d="M232.40 161.40L236.00 157.80L239.60 161.40L236.00 165.00Z" fill="#f3d36a" stroke="#6b5200" stroke-width="0.8"/>
<path d="M236.40 161.40L240.00 157.80L243.60 161.40L240.00 165.00Z" fill="#f3d36a" stroke="#6b5200" stroke-width="0.8"/>
<path d="M240.40 161.40L244.00 157.80L247.60 161.40L244.00 165.00Z" fill="#f3d36a" stroke="#6b5200" stroke-width="0.8"/>
<path d="M244.40 161.40L248.00 157.80L251.60 161.40L248.00 165.00Z" fill="#f3d36a" stroke="#6b5200" stroke-width="0.8"/>
<path d="M248.40 161.40L252.00 157.80L255.60 161.40L252.00 165.00Z" fill="#f3d36a" stroke="#6b5200" stroke-width="0.8"/>
<path d="M252.40 161.40L256.00 157.80L259.60 161.40L256.00 165.00Z" fill="#f3d36a" stroke="#6b5200" stroke-width="0.8"/>
<path d="M256.40 161.40L260.00 157.80L263.60 161.40L260.00 165.00Z" fill="#f3d36a" stroke="#6b5200" stroke-width="0.8"/>
<path d="M260.40 161.40L264.00 157.80L267.60 161.40L264.00 165.00Z" fill="#f3d36a" stroke="#6b5200" stroke-width="0.8"/>
<path d="M264.40 161.40L268.00 157.80L271.60 161.40L268.00 165.00Z" fill="#f3d36a" stroke="#6b5200" stroke-width="0.8"/>
<path d="M268.40 161.40L272.00 157.80L275.60 161.40L272.00 165.00Z" fill="#f3d36a" stroke="#6b5200" stroke-width="0.8"/>
<path d="M275.70 161.40L279.30 157.80L282.90 161.40L279.30 165.00Z" fill="#f3d36a" stroke="#6b5200" stroke-width="0.8"/>
<path d="M281.90 161.40L285.50 157.80L289.10 161.40L285.50 165.00Z" fill="#f3d36a" stroke="#6b5200" stroke-width="0.8"/>
<path d="M287.70 161.40L291.30 157.80L294.90 161.40L291.30 165.00Z" fill="#f3d36a" stroke="#6b5200" stroke-width="0.8"/>
<line x1="232.50" y1="161.40" x2="275.10" y2="161.40" stroke="#000" stroke-width="1.2" />
<line x1="232.50" y1="159.60" x2="232.50" y2="163.20" stroke="#000" stroke-width="0.9" />
<line x1="275.10" y1="159.60" x2="275.10" y2="163.20" stroke="#000" stroke-width="0.9" />
<polygon points="253.60,157.40 254.58,159.75 257.12,159.96 255.18,161.61 255.77,164.09 253.60,162.76 251.43,164.09 252.02,161.61 250.08,159.96 252.62,159.75" fill="#ffee00" stroke="#3a3300" stroke-width="0.7"/>
<text x="245.88" y="152.80" font-size="7.6" text-anchor="start" font-style="italic" textLength="18.43" lengthAdjust="spacingAndGlyphs" fill="#231f20" stroke="#231f20" stroke-width="0.15">Mgt-2</text>
<text x="331.84" y="163.40" font-size="6.0" text-anchor="start" font-style="italic" textLength="15.19" lengthAdjust="spacingAndGlyphs" fill="#3a3a3a" >N=178</text>
<line x1="131.00" y1="203.60" x2="276.00" y2="203.60" stroke="#5c5c5c" stroke-width="1.9" />
<rect x="169.25" y="199.85" width="56.50" height="7.50" rx="3.75" fill="#24407f" stroke="#0c1838" stroke-width="0.9"/>
<rect x="178.00" y="200.15" width="41.50" height="6.90" fill="#14244f"/>
<circle cx="151.70" cy="203.60" r="3.75" fill="#1b3170" stroke="#0c1838" stroke-width="0.9"/>
<circle cx="170.60" cy="203.60" r="3.75" fill="#1b3170" stroke="#0c1838" stroke-width="0.9"/>
<circle cx="182.00" cy="203.60" r="3.75" fill="#1b3170" stroke="#0c1838" stroke-width="0.9"/>
<circle cx="194.00" cy="203.60" r="3.75" fill="#1b3170" stroke="#0c1838" stroke-width="0.9"/>
<circle cx="211.00" cy="203.60" r="3.75" fill="#1b3170" stroke="#0c1838" stroke-width="0.9"/>
<circle cx="216.50" cy="203.60" r="3.75" fill="#1b3170" stroke="#0c1838" stroke-width="0.9"/>
<circle cx="222.20" cy="203.60" r="3.75" fill="#1b3170" stroke="#0c1838" stroke-width="0.9"/>
<circle cx="241.50" cy="203.60" r="3.75" fill="#1b3170" stroke="#0c1838" stroke-width="0.9"/>
<circle cx="252.40" cy="203.60" r="3.75" fill="#1b3170" stroke="#0c1838" stroke-width="0.9"/>
<circle cx="255.80" cy="203.60" r="3.75" fill="#1b3170" stroke="#0c1838" stroke-width="0.9"/>
<path d="M154.60 203.60L158.50 199.70L162.40 203.60L158.50 207.50Z" fill="#3a5ea8" stroke="#0c1838" stroke-width="0.8"/>
<path d="M173.00 203.60L176.90 199.70L180.80 203.60L176.90 207.50Z" fill="#3a5ea8" stroke="#0c1838" stroke-width="0.8"/>
<path d="M182.10 203.60L186.00 199.70L189.90 203.60L186.00 207.50Z" fill="#3a5ea8" stroke="#0c1838" stroke-width="0.8"/>
<path d="M186.10 203.60L190.00 199.70L193.90 203.60L190.00 207.50Z" fill="#3a5ea8" stroke="#0c1838" stroke-width="0.8"/>
<path d="M199.60 203.60L203.50 199.70L207.40 203.60L203.50 207.50Z" fill="#3a5ea8" stroke="#0c1838" stroke-width="0.8"/>
<path d="M203.60 203.60L207.50 199.70L211.40 203.60L207.50 207.50Z" fill="#3a5ea8" stroke="#0c1838" stroke-width="0.8"/>
<path d="M210.10 203.60L214.00 199.70L217.90 203.60L214.00 207.50Z" fill="#3a5ea8" stroke="#0c1838" stroke-width="0.8"/>
<path d="M222.20 203.60L226.10 199.70L230.00 203.60L226.10 207.50Z" fill="#3a5ea8" stroke="#0c1838" stroke-width="0.8"/>
<line x1="178.00" y1="203.60" x2="219.50" y2="203.60" stroke="#000" stroke-width="1.2" />
<line x1="178.00" y1="201.80" x2="178.00" y2="205.40" stroke="#000" stroke-width="0.9" />
<line x1="219.50" y1="201.80" x2="219.50" y2="205.40" stroke="#000" stroke-width="0.9" />
<polygon points="199.40,199.60 200.38,201.95 202.92,202.16 200.98,203.81 201.57,206.29 199.40,204.96 197.23,206.29 197.82,203.81 195.88,202.16 198.42,201.95" fill="#ffee00" stroke="#3a3300" stroke-width="0.7"/>
<text x="191.78" y="194.80" font-size="7.6" text-anchor="start" font-style="italic" textLength="18.54" lengthAdjust="spacingAndGlyphs" fill="#231f20" stroke="#231f20" stroke-width="0.15">Mgt-1</text>
<text x="277.24" y="205.40" font-size="6.0" text-anchor="start" font-style="italic" textLength="12.60" lengthAdjust="spacingAndGlyphs" fill="#3a3a3a" >N=37</text>
<line x1="75.10" y1="311.90" x2="312.90" y2="311.90" stroke="#5c5c5c" stroke-width="1.9" />
<rect x="92.35" y="308.15" width="203.30" height="7.50" rx="3.75" fill="#adadad" stroke="#505050" stroke-width="0.9"/>
<rect x="215.40" y="308.45" width="41.60" height="6.90" fill="#6a6a6a"/>
<circle cx="96.10" cy="311.90" r="3.75" fill="#adadad" stroke="#505050" stroke-width="0.9"/>
<circle cx="116.30" cy="311.90" r="3.75" fill="#adadad" stroke="#505050" stroke-width="0.9"/>
<circle cx="131.80" cy="311.90" r="3.75" fill="#adadad" stroke="#505050" stroke-width="0.9"/>
<circle cx="136.50" cy="311.90" r="3.75" fill="#adadad" stroke="#505050" stroke-width="0.9"/>
<circle cx="141.90" cy="311.90" r="3.75" fill="#adadad" stroke="#505050" stroke-width="0.9"/>
<circle cx="147.00" cy="311.90" r="3.75" fill="#adadad" stroke="#505050" stroke-width="0.9"/>
<circle cx="152.00" cy="311.90" r="3.75" fill="#adadad" stroke="#505050" stroke-width="0.9"/>
<circle cx="158.00" cy="311.90" r="3.75" fill="#adadad" stroke="#505050" stroke-width="0.9"/>
<circle cx="163.50" cy="311.90" r="3.75" fill="#adadad" stroke="#505050" stroke-width="0.9"/>
<circle cx="169.50" cy="311.90" r="3.75" fill="#adadad" stroke="#505050" stroke-width="0.9"/>
<circle cx="175.60" cy="311.90" r="3.75" fill="#adadad" stroke="#505050" stroke-width="0.9"/>
<circle cx="188.00" cy="311.90" r="3.75" fill="#adadad" stroke="#505050" stroke-width="0.9"/>
<circle cx="203.00" cy="311.90" r="3.75" fill="#adadad" stroke="#505050" stroke-width="0.9"/>
<circle cx="212.50" cy="311.90" r="3.75" fill="#adadad" stroke="#505050" stroke-width="0.9"/>
<circle cx="218.00" cy="311.90" r="3.75" fill="#adadad" stroke="#505050" stroke-width="0.9"/>
<circle cx="236.00" cy="311.90" r="3.75" fill="#adadad" stroke="#505050" stroke-width="0.9"/>
<circle cx="253.00" cy="311.90" r="3.75" fill="#adadad" stroke="#505050" stroke-width="0.9"/>
<circle cx="286.70" cy="311.90" r="3.75" fill="#adadad" stroke="#505050" stroke-width="0.9"/>
<circle cx="291.90" cy="311.90" r="3.75" fill="#adadad" stroke="#505050" stroke-width="0.9"/>
<path d="M101.20 311.90L104.80 308.30L108.40 311.90L104.80 315.50Z" fill="#e4e4e4" stroke="#505050" stroke-width="0.8"/>
<path d="M106.00 311.90L109.60 308.30L113.20 311.90L109.60 315.50Z" fill="#e4e4e4" stroke="#505050" stroke-width="0.8"/>
<path d="M119.70 311.90L123.30 308.30L126.90 311.90L123.30 315.50Z" fill="#e4e4e4" stroke="#505050" stroke-width="0.8"/>
<path d="M178.80 311.90L182.40 308.30L186.00 311.90L182.40 315.50Z" fill="#e4e4e4" stroke="#505050" stroke-width="0.8"/>
<path d="M186.90 311.90L190.50 308.30L194.10 311.90L190.50 315.50Z" fill="#e4e4e4" stroke="#505050" stroke-width="0.8"/>
<path d="M191.60 311.90L195.20 308.30L198.80 311.90L195.20 315.50Z" fill="#e4e4e4" stroke="#505050" stroke-width="0.8"/>
<path d="M195.70 311.90L199.30 308.30L202.90 311.90L199.30 315.50Z" fill="#e4e4e4" stroke="#505050" stroke-width="0.8"/>
<path d="M203.70 311.90L207.30 308.30L210.90 311.90L207.30 315.50Z" fill="#e4e4e4" stroke="#505050" stroke-width="0.8"/>
<path d="M220.40 311.90L224.00 308.30L227.60 311.90L224.00 315.50Z" fill="#e4e4e4" stroke="#505050" stroke-width="0.8"/>
<path d="M226.40 311.90L230.00 308.30L233.60 311.90L230.00 315.50Z" fill="#e4e4e4" stroke="#505050" stroke-width="0.8"/>
<path d="M238.40 311.90L242.00 308.30L245.60 311.90L242.00 315.50Z" fill="#e4e4e4" stroke="#505050" stroke-width="0.8"/>
<path d="M244.40 311.90L248.00 308.30L251.60 311.90L248.00 315.50Z" fill="#e4e4e4" stroke="#505050" stroke-width="0.8"/>
<path d="M256.90 311.90L260.50 308.30L264.10 311.90L260.50 315.50Z" fill="#e4e4e4" stroke="#505050" stroke-width="0.8"/>
<path d="M262.10 311.90L265.70 308.30L269.30 311.90L265.70 315.50Z" fill="#e4e4e4" stroke="#505050" stroke-width="0.8"/>
<path d="M266.30 311.90L269.90 308.30L273.50 311.90L269.90 315.50Z" fill="#e4e4e4" stroke="#505050" stroke-width="0.8"/>
<path d="M272.60 311.90L276.20 308.30L279.80 311.90L276.20 315.50Z" fill="#e4e4e4" stroke="#505050" stroke-width="0.8"/>
<path d="M277.80 311.90L281.40 308.30L285.00 311.90L281.40 315.50Z" fill="#e4e4e4" stroke="#505050" stroke-width="0.8"/>
<line x1="215.40" y1="311.90" x2="257.00" y2="311.90" stroke="#000" stroke-width="1.2" />
<line x1="215.40" y1="310.10" x2="215.40" y2="313.70" stroke="#000" stroke-width="0.9" />
<line x1="257.00" y1="310.10" x2="257.00" y2="313.70" stroke="#000" stroke-width="0.9" />
<polygon points="235.80,307.90 236.78,310.25 239.32,310.46 237.38,312.11 237.97,314.59 235.80,313.26 233.63,314.59 234.22,312.11 232.28,310.46 234.82,310.25" fill="#ffee00" stroke="#3a3300" stroke-width="0.7"/>
<text x="227.68" y="302.60" font-size="7.6" text-anchor="start" font-style="italic" textLength="18.49" lengthAdjust="spacingAndGlyphs" fill="#231f20" stroke="#231f20" stroke-width="0.15">Mgt-3</text>
<text x="313.74" y="312.70" font-size="6.0" text-anchor="start" font-style="italic" textLength="15.50" lengthAdjust="spacingAndGlyphs" fill="#3a3a3a" >N=757</text>
<line x1="116.90" y1="354.90" x2="340.50" y2="354.90" stroke="#5c5c5c" stroke-width="1.9" />
<rect x="156.65" y="351.15" width="143.10" height="7.50" rx="3.75" fill="#3ec6bb" stroke="#1b5e59" stroke-width="0.9"/>
<rect x="215.00" y="351.45" width="43.00" height="6.90" fill="#1f5f5a"/>
<circle cx="137.80" cy="354.90" r="3.75" fill="#3ec6bb" stroke="#1b5e59" stroke-width="0.9"/>
<circle cx="160.40" cy="354.90" r="3.75" fill="#3ec6bb" stroke="#1b5e59" stroke-width="0.9"/>
<circle cx="166.50" cy="354.90" r="3.75" fill="#3ec6bb" stroke="#1b5e59" stroke-width="0.9"/>
<circle cx="187.30" cy="354.90" r="3.75" fill="#3ec6bb" stroke="#1b5e59" stroke-width="0.9"/>
<circle cx="205.50" cy="354.90" r="3.75" fill="#3ec6bb" stroke="#1b5e59" stroke-width="0.9"/>
<circle cx="211.60" cy="354.90" r="3.75" fill="#3ec6bb" stroke="#1b5e59" stroke-width="0.9"/>
<circle cx="217.00" cy="354.90" r="3.75" fill="#3ec6bb" stroke="#1b5e59" stroke-width="0.9"/>
<circle cx="225.00" cy="354.90" r="3.75" fill="#3ec6bb" stroke="#1b5e59" stroke-width="0.9"/>
<circle cx="229.00" cy="354.90" r="3.75" fill="#3ec6bb" stroke="#1b5e59" stroke-width="0.9"/>
<circle cx="240.00" cy="354.90" r="3.75" fill="#3ec6bb" stroke="#1b5e59" stroke-width="0.9"/>
<circle cx="248.00" cy="354.90" r="3.75" fill="#3ec6bb" stroke="#1b5e59" stroke-width="0.9"/>
<circle cx="255.50" cy="354.90" r="3.75" fill="#3ec6bb" stroke="#1b5e59" stroke-width="0.9"/>
<circle cx="272.90" cy="354.90" r="3.75" fill="#3ec6bb" stroke="#1b5e59" stroke-width="0.9"/>
<circle cx="280.30" cy="354.90" r="3.75" fill="#3ec6bb" stroke="#1b5e59" stroke-width="0.9"/>
<circle cx="284.40" cy="354.90" r="3.75" fill="#3ec6bb" stroke="#1b5e59" stroke-width="0.9"/>
<circle cx="296.00" cy="354.90" r="3.75" fill="#3ec6bb" stroke="#1b5e59" stroke-width="0.9"/>
<circle cx="305.80" cy="354.90" r="3.75" fill="#3ec6bb" stroke="#1b5e59" stroke-width="0.9"/>
<circle cx="319.80" cy="354.90" r="3.75" fill="#3ec6bb" stroke="#1b5e59" stroke-width="0.9"/>
<path d="M169.60 354.90L173.20 351.30L176.80 354.90L173.20 358.50Z" fill="#8be0d9" stroke="#1b5e59" stroke-width="0.8"/>
<path d="M173.90 354.90L177.50 351.30L181.10 354.90L177.50 358.50Z" fill="#8be0d9" stroke="#1b5e59" stroke-width="0.8"/>
<path d="M177.70 354.90L181.30 351.30L184.90 354.90L181.30 358.50Z" fill="#8be0d9" stroke="#1b5e59" stroke-width="0.8"/>
<path d="M190.40 354.90L194.00 351.30L197.60 354.90L194.00 358.50Z" fill="#8be0d9" stroke="#1b5e59" stroke-width="0.8"/>
<path d="M195.20 354.90L198.80 351.30L202.40 354.90L198.80 358.50Z" fill="#8be0d9" stroke="#1b5e59" stroke-width="0.8"/>
<path d="M217.40 354.90L221.00 351.30L224.60 354.90L221.00 358.50Z" fill="#8be0d9" stroke="#1b5e59" stroke-width="0.8"/>
<path d="M229.40 354.90L233.00 351.30L236.60 354.90L233.00 358.50Z" fill="#8be0d9" stroke="#1b5e59" stroke-width="0.8"/>
<path d="M240.40 354.90L244.00 351.30L247.60 354.90L244.00 358.50Z" fill="#8be0d9" stroke="#1b5e59" stroke-width="0.8"/>
<path d="M248.40 354.90L252.00 351.30L255.60 354.90L252.00 358.50Z" fill="#8be0d9" stroke="#1b5e59" stroke-width="0.8"/>
<path d="M258.40 354.90L262.00 351.30L265.60 354.90L262.00 358.50Z" fill="#8be0d9" stroke="#1b5e59" stroke-width="0.8"/>
<path d="M262.70 354.90L266.30 351.30L269.90 354.90L266.30 358.50Z" fill="#8be0d9" stroke="#1b5e59" stroke-width="0.8"/>
<path d="M285.80 354.90L289.40 351.30L293.00 354.90L289.40 358.50Z" fill="#8be0d9" stroke="#1b5e59" stroke-width="0.8"/>
<line x1="215.00" y1="354.90" x2="258.00" y2="354.90" stroke="#000" stroke-width="1.2" />
<line x1="215.00" y1="353.10" x2="215.00" y2="356.70" stroke="#000" stroke-width="0.9" />
<line x1="258.00" y1="353.10" x2="258.00" y2="356.70" stroke="#000" stroke-width="0.9" />
<polygon points="236.80,350.90 237.78,353.25 240.32,353.46 238.38,355.11 238.97,357.59 236.80,356.26 234.63,357.59 235.22,355.11 233.28,353.46 235.82,353.25" fill="#ffee00" stroke="#3a3300" stroke-width="0.7"/>
<text x="229.48" y="346.60" font-size="7.6" text-anchor="start" font-style="italic" textLength="18.33" lengthAdjust="spacingAndGlyphs" fill="#231f20" stroke="#231f20" stroke-width="0.15">Mgt-2</text>
<text x="96.75" y="356.60" font-size="6.0" text-anchor="start" font-style="italic" textLength="14.86" lengthAdjust="spacingAndGlyphs" fill="#3a3a3a" >N=179</text>
<line x1="179.00" y1="397.80" x2="296.70" y2="397.80" stroke="#5c5c5c" stroke-width="1.9" />
<circle cx="200.00" cy="397.80" r="3.60" fill="#8f44e6" stroke="#55248f" stroke-width="0.9"/>
<path d="M200.90 397.80L204.50 394.20L208.10 397.80L204.50 401.40Z" fill="#8f44e6" stroke="#55248f" stroke-width="0.8"/>
<path d="M209.40 397.80L213.00 394.20L216.60 397.80L213.00 401.40Z" fill="#8f44e6" stroke="#55248f" stroke-width="0.8"/>
<path d="M215.40 397.80L219.00 394.20L222.60 397.80L219.00 401.40Z" fill="#8f44e6" stroke="#55248f" stroke-width="0.8"/>
<path d="M222.40 397.80L226.00 394.20L229.60 397.80L226.00 401.40Z" fill="#8f44e6" stroke="#55248f" stroke-width="0.8"/>
<path d="M225.90 397.80L229.50 394.20L233.10 397.80L229.50 401.40Z" fill="#8f44e6" stroke="#55248f" stroke-width="0.8"/>
<path d="M229.90 397.80L233.50 394.20L237.10 397.80L233.50 401.40Z" fill="#8f44e6" stroke="#55248f" stroke-width="0.8"/>
<path d="M234.40 397.80L238.00 394.20L241.60 397.80L238.00 401.40Z" fill="#8f44e6" stroke="#55248f" stroke-width="0.8"/>
<path d="M238.90 397.80L242.50 394.20L246.10 397.80L242.50 401.40Z" fill="#8f44e6" stroke="#55248f" stroke-width="0.8"/>
<path d="M243.40 397.80L247.00 394.20L250.60 397.80L247.00 401.40Z" fill="#8f44e6" stroke="#55248f" stroke-width="0.8"/>
<path d="M254.90 397.80L258.50 394.20L262.10 397.80L258.50 401.40Z" fill="#8f44e6" stroke="#55248f" stroke-width="0.8"/>
<path d="M259.40 397.80L263.00 394.20L266.60 397.80L263.00 401.40Z" fill="#8f44e6" stroke="#55248f" stroke-width="0.8"/>
<path d="M263.90 397.80L267.50 394.20L271.10 397.80L267.50 401.40Z" fill="#8f44e6" stroke="#55248f" stroke-width="0.8"/>
<path d="M268.40 397.80L272.00 394.20L275.60 397.80L272.00 401.40Z" fill="#8f44e6" stroke="#55248f" stroke-width="0.8"/>
<path d="M272.40 397.80L276.00 394.20L279.60 397.80L276.00 401.40Z" fill="#8f44e6" stroke="#55248f" stroke-width="0.8"/>
<line x1="209.50" y1="397.80" x2="252.90" y2="397.80" stroke="#000" stroke-width="1.2" />
<line x1="209.50" y1="396.00" x2="209.50" y2="399.60" stroke="#000" stroke-width="0.9" />
<line x1="252.90" y1="396.00" x2="252.90" y2="399.60" stroke="#000" stroke-width="0.9" />
<polygon points="231.60,393.80 232.58,396.15 235.12,396.36 233.18,398.01 233.77,400.49 231.60,399.17 229.43,400.49 230.02,398.01 228.08,396.36 230.62,396.15" fill="#ffee00" stroke="#3a3300" stroke-width="0.7"/>
<text x="223.77" y="388.60" font-size="7.6" text-anchor="start" font-style="italic" textLength="18.85" lengthAdjust="spacingAndGlyphs" fill="#231f20" stroke="#231f20" stroke-width="0.15">Mgt-1</text>
<text x="297.94" y="398.60" font-size="6.0" text-anchor="start" font-style="italic" textLength="12.45" lengthAdjust="spacingAndGlyphs" fill="#3a3a3a" >N=34</text>
<line x1="161.00" y1="507.30" x2="344.60" y2="507.30" stroke="#151515" stroke-width="1.5" />
<circle cx="181.50" cy="507.20" r="3.70" fill="#f39612" stroke="#7a4700" stroke-width="0.9"/>
<circle cx="193.20" cy="507.20" r="3.70" fill="#f39612" stroke="#7a4700" stroke-width="0.9"/>
<circle cx="195.80" cy="507.20" r="3.70" fill="#f39612" stroke="#7a4700" stroke-width="0.9"/>
<circle cx="198.20" cy="507.20" r="3.70" fill="#f39612" stroke="#7a4700" stroke-width="0.9"/>
<circle cx="200.00" cy="507.20" r="3.70" fill="#f39612" stroke="#7a4700" stroke-width="0.9"/>
<circle cx="202.20" cy="507.20" r="3.70" fill="#f39612" stroke="#7a4700" stroke-width="0.9"/>
<circle cx="215.60" cy="507.20" r="3.70" fill="#f39612" stroke="#7a4700" stroke-width="0.9"/>
<circle cx="219.00" cy="507.20" r="3.70" fill="#f39612" stroke="#7a4700" stroke-width="0.9"/>
<circle cx="232.10" cy="507.20" r="3.70" fill="#f39612" stroke="#7a4700" stroke-width="0.9"/>
<circle cx="265.40" cy="507.20" r="3.70" fill="#e60012" stroke="#7a0008" stroke-width="0.9"/>
<circle cx="282.40" cy="507.20" r="3.70" fill="#e60012" stroke="#7a0008" stroke-width="0.9"/>
<circle cx="285.80" cy="507.20" r="3.70" fill="#e60012" stroke="#7a0008" stroke-width="0.9"/>
<circle cx="288.70" cy="507.20" r="3.70" fill="#e60012" stroke="#7a0008" stroke-width="0.9"/>
<circle cx="314.00" cy="507.20" r="3.70" fill="#e60012" stroke="#7a0008" stroke-width="0.9"/>
<circle cx="317.50" cy="507.20" r="3.70" fill="#e60012" stroke="#7a0008" stroke-width="0.9"/>
<circle cx="321.00" cy="507.20" r="3.70" fill="#e60012" stroke="#7a0008" stroke-width="0.9"/>
<circle cx="324.30" cy="507.20" r="3.70" fill="#e60012" stroke="#7a0008" stroke-width="0.9"/>
<path d="M283.10 507.20L286.50 503.80L289.90 507.20L286.50 510.60Z" fill="#e60012" stroke="#7a0008" stroke-width="0.8"/>
<path d="M298.90 507.20L302.50 503.60L306.10 507.20L302.50 510.80Z" fill="#e60012" stroke="#7a0008" stroke-width="0.9"/>
<path d="M315.10 507.20L318.50 503.80L321.90 507.20L318.50 510.60Z" fill="#e60012" stroke="#7a0008" stroke-width="0.8"/>
<line x1="182.40" y1="514.50" x2="225.00" y2="514.50" stroke="#000" stroke-width="1.1" />
<line x1="182.40" y1="512.70" x2="182.40" y2="516.30" stroke="#000" stroke-width="0.9" />
<line x1="225.00" y1="512.70" x2="225.00" y2="516.30" stroke="#000" stroke-width="0.9" />
<polygon points="203.70,510.60 204.65,512.89 207.12,513.09 205.24,514.70 205.82,517.11 203.70,515.82 201.58,517.11 202.16,514.70 200.28,513.09 202.75,512.89" fill="#ffee00" stroke="#3a3300" stroke-width="0.7"/>
<line x1="281.90" y1="497.20" x2="324.30" y2="497.20" stroke="#000" stroke-width="1.1" />
<line x1="281.90" y1="495.40" x2="281.90" y2="499.00" stroke="#000" stroke-width="0.9" />
<line x1="324.30" y1="495.40" x2="324.30" y2="499.00" stroke="#000" stroke-width="0.9" />
<polygon points="303.10,493.30 304.05,495.59 306.52,495.79 304.64,497.40 305.22,499.81 303.10,498.52 300.98,499.81 301.56,497.40 299.68,495.79 302.15,495.59" fill="#ffee00" stroke="#3a3300" stroke-width="0.7"/>
<text x="199.04" y="525.60" font-size="7.6" text-anchor="start" font-style="italic" textLength="8.34" lengthAdjust="spacingAndGlyphs" fill="#231f20" stroke="#231f20" stroke-width="0.15">A1</text>
<text x="299.36" y="490.60" font-size="7.6" text-anchor="start" font-style="italic" textLength="8.95" lengthAdjust="spacingAndGlyphs" fill="#231f20" stroke="#231f20" stroke-width="0.15">A2</text>
<text x="346.54" y="508.30" font-size="6.0" text-anchor="start" font-style="italic" textLength="12.64" lengthAdjust="spacingAndGlyphs" fill="#3a3a3a" >N=32</text>
<rect x="402.30" y="48.80" width="113.20" height="182.40" fill="none" stroke="#231f20" stroke-width="1.1" />
<line x1="422.20" y1="49.40" x2="422.20" y2="230.60" stroke="#b3b3b3" stroke-width="1.4" />
<line x1="446.40" y1="48.80" x2="446.40" y2="234.70" stroke="#231f20" stroke-width="1.1" />
<rect x="520.70" y="48.80" width="69.10" height="182.40" fill="none" stroke="#231f20" stroke-width="1.1" />
<rect x="595.60" y="48.80" width="68.70" height="182.40" fill="none" stroke="#231f20" stroke-width="1.1" />
<line x1="446.40" y1="231.20" x2="446.40" y2="234.70" stroke="#231f20" stroke-width="1.0" />
<line x1="480.95" y1="231.20" x2="480.95" y2="234.70" stroke="#231f20" stroke-width="1.0" />
<line x1="515.50" y1="231.20" x2="515.50" y2="234.70" stroke="#231f20" stroke-width="1.0" />
<line x1="520.70" y1="231.20" x2="520.70" y2="234.70" stroke="#231f20" stroke-width="1.0" />
<line x1="555.25" y1="231.20" x2="555.25" y2="234.70" stroke="#231f20" stroke-width="1.0" />
<line x1="589.80" y1="231.20" x2="589.80" y2="234.70" stroke="#231f20" stroke-width="1.0" />
<line x1="595.60" y1="231.20" x2="595.60" y2="234.70" stroke="#231f20" stroke-width="1.0" />
<line x1="629.95" y1="231.20" x2="629.95" y2="234.70" stroke="#231f20" stroke-width="1.0" />
<line x1="664.30" y1="231.20" x2="664.30" y2="234.70" stroke="#231f20" stroke-width="1.0" />
<line x1="448.80" y1="98.20" x2="515.00" y2="98.20" stroke="#8c8c8c" stroke-width="0.8" stroke-dasharray="2.6 2.6"/>
<line x1="523.00" y1="98.20" x2="589.30" y2="98.20" stroke="#8c8c8c" stroke-width="0.8" stroke-dasharray="2.6 2.6"/>
<line x1="598.00" y1="98.20" x2="663.80" y2="98.20" stroke="#8c8c8c" stroke-width="0.8" stroke-dasharray="2.6 2.6"/>
<line x1="448.80" y1="182.50" x2="515.00" y2="182.50" stroke="#8c8c8c" stroke-width="0.8" stroke-dasharray="2.6 2.6"/>
<line x1="523.00" y1="182.50" x2="589.30" y2="182.50" stroke="#8c8c8c" stroke-width="0.8" stroke-dasharray="2.6 2.6"/>
<line x1="598.00" y1="182.50" x2="663.80" y2="182.50" stroke="#8c8c8c" stroke-width="0.8" stroke-dasharray="2.6 2.6"/>
<text x="0.00" y="0.00" font-size="10.0" text-anchor="middle" font-style="italic" textLength="69.70" lengthAdjust="spacingAndGlyphs" fill="#231f20" transform="translate(414.8,141.9) rotate(-90)">Laco Norte orebody</text>
<text x="425.69" y="78.80" font-size="7.0" text-anchor="start" font-style="italic" textLength="17.57" lengthAdjust="spacingAndGlyphs" fill="#231f20" stroke="#231f20" stroke-width="0.12">Mgt-4</text>
<text x="425.70" y="121.40" font-size="7.0" text-anchor="start" font-style="italic" textLength="16.56" lengthAdjust="spacingAndGlyphs" fill="#231f20" stroke="#231f20" stroke-width="0.12">Mgt-3</text>
<text x="425.70" y="163.00" font-size="7.0" text-anchor="start" font-style="italic" textLength="16.39" lengthAdjust="spacingAndGlyphs" fill="#231f20" stroke="#231f20" stroke-width="0.12">Mgt-2</text>
<text x="425.70" y="206.40" font-size="7.0" text-anchor="start" font-style="italic" textLength="16.65" lengthAdjust="spacingAndGlyphs" fill="#231f20" stroke="#231f20" stroke-width="0.12">Mgt-1</text>
<rect x="446.40" y="75.50" width="1.20" height="3.00" fill="#d9d9d9" stroke="#6a6a6a" stroke-width="0.6" />
<rect x="521.00" y="74.90" width="8.60" height="3.00" fill="#d9d9d9" stroke="#6a6a6a" stroke-width="0.6" />
<rect x="596.00" y="75.50" width="1.20" height="3.00" fill="#d9d9d9" stroke="#6a6a6a" stroke-width="0.6" />
<rect x="446.40" y="117.50" width="10.00" height="3.00" fill="#d4540f" stroke="#8a3506" stroke-width="0.6" />
<rect x="521.00" y="117.50" width="30.70" height="3.00" fill="#d4540f" stroke="#8a3506" stroke-width="0.6" />
<rect x="596.00" y="117.50" width="35.80" height="3.00" fill="#d4540f" stroke="#8a3506" stroke-width="0.6" />
<rect x="446.40" y="159.90" width="36.40" height="3.00" fill="#f2b50c" stroke="#a07400" stroke-width="0.6" />
<rect x="521.00" y="159.80" width="36.00" height="3.00" fill="#f2b50c" stroke="#a07400" stroke-width="0.6" />
<rect x="596.00" y="160.00" width="60.40" height="3.00" fill="#f2b50c" stroke="#a07400" stroke-width="0.6" />
<rect x="446.40" y="203.20" width="66.50" height="3.00" fill="#4672b8" stroke="#2c4f8a" stroke-width="0.6" />
<rect x="521.00" y="203.30" width="38.80" height="3.00" fill="#4672b8" stroke="#2c4f8a" stroke-width="0.6" />
<rect x="596.00" y="203.20" width="32.70" height="3.00" fill="#4672b8" stroke="#2c4f8a" stroke-width="0.6" />
<text x="548.12" y="57.10" font-size="7.1" text-anchor="start" font-style="italic" textLength="38.12" lengthAdjust="spacingAndGlyphs" fill="#231f20" >Surface zone</text>
<text x="560.55" y="63.40" font-size="7.1" text-anchor="start" font-style="italic" textLength="25.89" lengthAdjust="spacingAndGlyphs" fill="#231f20" >(&lt;30 m)</text>
<text x="532.83" y="134.60" font-size="7.1" text-anchor="start" font-style="italic" textLength="54.52" lengthAdjust="spacingAndGlyphs" fill="#231f20" >Intermediate zone</text>
<text x="542.75" y="141.20" font-size="7.1" text-anchor="start" font-style="italic" textLength="44.79" lengthAdjust="spacingAndGlyphs" fill="#231f20" >(~150 - 30 m)</text>
<text x="553.99" y="189.90" font-size="7.1" text-anchor="start" font-style="italic" textLength="32.25" lengthAdjust="spacingAndGlyphs" fill="#231f20" >Deep zone</text>
<text x="553.85" y="196.60" font-size="7.1" text-anchor="start" font-style="italic" textLength="32.61" lengthAdjust="spacingAndGlyphs" fill="#231f20" >(&gt; 150 m)</text>
<text x="445.23" y="246.40" font-size="8.6" text-anchor="start" textLength="5.93" lengthAdjust="spacingAndGlyphs" fill="#231f20" stroke="#231f20" stroke-width="0.12" >0</text>
<text x="473.39" y="246.40" font-size="8.6" text-anchor="start" textLength="12.85" lengthAdjust="spacingAndGlyphs" fill="#231f20" stroke="#231f20" stroke-width="0.12" >0.5</text>
<text x="512.41" y="246.40" font-size="8.6" text-anchor="start" textLength="2.84" lengthAdjust="spacingAndGlyphs" fill="#231f20" stroke="#231f20" stroke-width="0.12" >1</text>
<text x="519.95" y="246.40" font-size="8.6" text-anchor="start" textLength="5.70" lengthAdjust="spacingAndGlyphs" fill="#231f20" stroke="#231f20" stroke-width="0.12" >0</text>
<text x="547.08" y="246.40" font-size="8.6" text-anchor="start" textLength="18.68" lengthAdjust="spacingAndGlyphs" fill="#231f20" stroke="#231f20" stroke-width="0.12" >0.25</text>
<text x="577.64" y="246.40" font-size="8.6" text-anchor="start" textLength="12.74" lengthAdjust="spacingAndGlyphs" fill="#231f20" stroke="#231f20" stroke-width="0.12" >0.5</text>
<text x="594.89" y="246.40" font-size="8.6" text-anchor="start" textLength="5.82" lengthAdjust="spacingAndGlyphs" fill="#231f20" stroke="#231f20" stroke-width="0.12" >0</text>
<text x="624.30" y="246.40" font-size="8.6" text-anchor="start" textLength="11.14" lengthAdjust="spacingAndGlyphs" fill="#231f20" stroke="#231f20" stroke-width="0.12" >26</text>
<text x="656.26" y="246.40" font-size="8.6" text-anchor="start" textLength="10.78" lengthAdjust="spacingAndGlyphs" fill="#231f20" stroke="#231f20" stroke-width="0.12" >52</text>
<text x="462.96" y="263.00" font-size="10.9" text-anchor="start" textLength="42.92" lengthAdjust="spacingAndGlyphs" fill="#231f20" stroke="#231f20" stroke-width="0.12" >Ti (wt.%)</text>
<text x="537.65" y="263.00" font-size="10.9" text-anchor="start" textLength="41.53" lengthAdjust="spacingAndGlyphs" fill="#231f20" stroke="#231f20" stroke-width="0.12" >V (wt.%)</text>
<text x="607.05" y="262.40" font-size="10.9" text-anchor="start" textLength="46.02" lengthAdjust="spacingAndGlyphs" fill="#231f20" stroke="#231f20" stroke-width="0.12" >Ga (ppm)</text>
<rect x="402.30" y="283.60" width="113.20" height="142.70" fill="none" stroke="#231f20" stroke-width="1.1" />
<line x1="422.20" y1="284.20" x2="422.20" y2="425.70" stroke="#b3b3b3" stroke-width="1.4" />
<line x1="446.40" y1="283.60" x2="446.40" y2="429.80" stroke="#231f20" stroke-width="1.1" />
<rect x="520.70" y="283.60" width="69.10" height="142.70" fill="none" stroke="#231f20" stroke-width="1.1" />
<rect x="595.60" y="283.60" width="68.70" height="142.70" fill="none" stroke="#231f20" stroke-width="1.1" />
<line x1="446.40" y1="426.30" x2="446.40" y2="429.80" stroke="#231f20" stroke-width="1.0" />
<line x1="480.95" y1="426.30" x2="480.95" y2="429.80" stroke="#231f20" stroke-width="1.0" />
<line x1="515.50" y1="426.30" x2="515.50" y2="429.80" stroke="#231f20" stroke-width="1.0" />
<line x1="520.70" y1="426.30" x2="520.70" y2="429.80" stroke="#231f20" stroke-width="1.0" />
<line x1="555.25" y1="426.30" x2="555.25" y2="429.80" stroke="#231f20" stroke-width="1.0" />
<line x1="589.80" y1="426.30" x2="589.80" y2="429.80" stroke="#231f20" stroke-width="1.0" />
<line x1="595.60" y1="426.30" x2="595.60" y2="429.80" stroke="#231f20" stroke-width="1.0" />
<line x1="629.95" y1="426.30" x2="629.95" y2="429.80" stroke="#231f20" stroke-width="1.0" />
<line x1="664.30" y1="426.30" x2="664.30" y2="429.80" stroke="#231f20" stroke-width="1.0" />
<line x1="448.80" y1="332.50" x2="515.00" y2="332.50" stroke="#8c8c8c" stroke-width="0.8" stroke-dasharray="2.6 2.6"/>
<line x1="523.00" y1="332.50" x2="589.30" y2="332.50" stroke="#8c8c8c" stroke-width="0.8" stroke-dasharray="2.6 2.6"/>
<line x1="598.00" y1="332.50" x2="663.80" y2="332.50" stroke="#8c8c8c" stroke-width="0.8" stroke-dasharray="2.6 2.6"/>
<line x1="448.80" y1="376.30" x2="515.00" y2="376.30" stroke="#8c8c8c" stroke-width="0.8" stroke-dasharray="2.6 2.6"/>
<line x1="523.00" y1="376.30" x2="589.30" y2="376.30" stroke="#8c8c8c" stroke-width="0.8" stroke-dasharray="2.6 2.6"/>
<line x1="598.00" y1="376.30" x2="663.80" y2="376.30" stroke="#8c8c8c" stroke-width="0.8" stroke-dasharray="2.6 2.6"/>
<text x="0.00" y="0.00" font-size="10.0" text-anchor="middle" font-style="italic" textLength="60.10" lengthAdjust="spacingAndGlyphs" fill="#231f20" transform="translate(414.8,353.5) rotate(-90)">Laco Sur orebody</text>
<text x="425.60" y="313.80" font-size="7.0" text-anchor="start" font-style="italic" textLength="16.66" lengthAdjust="spacingAndGlyphs" fill="#231f20" stroke="#231f20" stroke-width="0.12">Mgt-3</text>
<text x="425.60" y="356.70" font-size="7.0" text-anchor="start" font-style="italic" textLength="16.70" lengthAdjust="spacingAndGlyphs" fill="#231f20" stroke="#231f20" stroke-width="0.12">Mgt-2</text>
<text x="425.60" y="397.80" font-size="7.0" text-anchor="start" font-style="italic" textLength="16.76" lengthAdjust="spacingAndGlyphs" fill="#231f20" stroke="#231f20" stroke-width="0.12">Mgt-1</text>
<rect x="446.40" y="310.50" width="1.20" height="3.00" fill="#d9d9d9" stroke="#6a6a6a" stroke-width="0.6" />
<rect x="521.00" y="310.20" width="12.80" height="3.00" fill="#d9d9d9" stroke="#6a6a6a" stroke-width="0.6" />
<rect x="596.00" y="310.00" width="2.80" height="3.00" fill="#d9d9d9" stroke="#6a6a6a" stroke-width="0.6" />
<rect x="446.40" y="353.30" width="32.20" height="3.00" fill="#5fd5cb" stroke="#2a6e69" stroke-width="0.6" />
<rect x="521.00" y="353.60" width="48.80" height="3.00" fill="#5fd5cb" stroke="#2a6e69" stroke-width="0.6" />
<rect x="596.00" y="353.10" width="35.00" height="3.00" fill="#5fd5cb" stroke="#2a6e69" stroke-width="0.6" />
<rect x="446.40" y="395.10" width="63.20" height="3.00" fill="#8e2cee" stroke="#54168f" stroke-width="0.6" />
<rect x="521.00" y="395.30" width="31.30" height="3.00" fill="#8e2cee" stroke="#54168f" stroke-width="0.6" />
<rect x="596.00" y="395.10" width="43.60" height="3.00" fill="#8e2cee" stroke="#54168f" stroke-width="0.6" />
<text x="523.82" y="292.90" font-size="7.1" text-anchor="start" font-style="italic" textLength="63.03" lengthAdjust="spacingAndGlyphs" fill="#231f20" >Shallow/Surface zone</text>
<text x="561.05" y="299.50" font-size="7.1" text-anchor="start" font-style="italic" textLength="26.00" lengthAdjust="spacingAndGlyphs" fill="#231f20" >(&gt;30 m)</text>
<text x="532.83" y="340.10" font-size="7.1" text-anchor="start" font-style="italic" textLength="54.02" lengthAdjust="spacingAndGlyphs" fill="#231f20" >Intermediate zone</text>
<text x="542.15" y="347.20" font-size="7.1" text-anchor="start" font-style="italic" textLength="44.89" lengthAdjust="spacingAndGlyphs" fill="#231f20" >(~150 - 30 m)</text>
<text x="554.79" y="384.50" font-size="7.1" text-anchor="start" font-style="italic" textLength="32.66" lengthAdjust="spacingAndGlyphs" fill="#231f20" >Deep zone</text>
<text x="554.66" y="391.20" font-size="7.1" text-anchor="start" font-style="italic" textLength="29.58" lengthAdjust="spacingAndGlyphs" fill="#231f20" >(&gt;150 m)</text>
<text x="444.81" y="444.10" font-size="7.7" text-anchor="start" textLength="4.77" lengthAdjust="spacingAndGlyphs" fill="#231f20" stroke="#231f20" stroke-width="0.12" >0</text>
<text x="474.36" y="444.10" font-size="7.7" text-anchor="start" textLength="10.30" lengthAdjust="spacingAndGlyphs" fill="#231f20" stroke="#231f20" stroke-width="0.12" >0.5</text>
<text x="512.45" y="444.10" font-size="7.7" text-anchor="start" textLength="2.58" lengthAdjust="spacingAndGlyphs" fill="#231f20" stroke="#231f20" stroke-width="0.12" >1</text>
<text x="519.81" y="444.10" font-size="7.7" text-anchor="start" textLength="4.77" lengthAdjust="spacingAndGlyphs" fill="#231f20" stroke="#231f20" stroke-width="0.12" >0</text>
<text x="548.42" y="444.10" font-size="7.7" text-anchor="start" textLength="14.19" lengthAdjust="spacingAndGlyphs" fill="#231f20" stroke="#231f20" stroke-width="0.12" >0.25</text>
<text x="577.90" y="444.10" font-size="7.7" text-anchor="start" textLength="10.62" lengthAdjust="spacingAndGlyphs" fill="#231f20" stroke="#231f20" stroke-width="0.12" >0.5</text>
<text x="594.09" y="444.10" font-size="7.7" text-anchor="start" textLength="4.42" lengthAdjust="spacingAndGlyphs" fill="#231f20" stroke="#231f20" stroke-width="0.12" >0</text>
<text x="624.48" y="444.10" font-size="7.7" text-anchor="start" textLength="8.19" lengthAdjust="spacingAndGlyphs" fill="#231f20" stroke="#231f20" stroke-width="0.12" >26</text>
<text x="655.69" y="444.10" font-size="7.7" text-anchor="start" textLength="8.49" lengthAdjust="spacingAndGlyphs" fill="#231f20" stroke="#231f20" stroke-width="0.12" >52</text>
<text x="462.56" y="458.60" font-size="10.9" text-anchor="start" textLength="41.69" lengthAdjust="spacingAndGlyphs" fill="#231f20" stroke="#231f20" stroke-width="0.12" >Ti (wt.%)</text>
<text x="536.65" y="458.60" font-size="10.9" text-anchor="start" textLength="42.04" lengthAdjust="spacingAndGlyphs" fill="#231f20" stroke="#231f20" stroke-width="0.12" >V (wt.%)</text>
<text x="607.35" y="458.20" font-size="10.9" text-anchor="start" textLength="46.23" lengthAdjust="spacingAndGlyphs" fill="#231f20" stroke="#231f20" stroke-width="0.12" >Ga (ppm)</text>
<rect x="401.50" y="481.00" width="113.20" height="67.20" fill="none" stroke="#231f20" stroke-width="1.1" />
<line x1="421.40" y1="481.60" x2="421.40" y2="547.60" stroke="#b3b3b3" stroke-width="1.4" />
<line x1="445.60" y1="481.00" x2="445.60" y2="551.70" stroke="#231f20" stroke-width="1.1" />
<rect x="519.90" y="481.00" width="69.10" height="67.20" fill="none" stroke="#231f20" stroke-width="1.1" />
<rect x="594.80" y="481.00" width="68.70" height="67.20" fill="none" stroke="#231f20" stroke-width="1.1" />
<line x1="445.60" y1="548.20" x2="445.60" y2="551.70" stroke="#231f20" stroke-width="1.0" />
<line x1="480.15" y1="548.20" x2="480.15" y2="551.70" stroke="#231f20" stroke-width="1.0" />
<line x1="514.70" y1="548.20" x2="514.70" y2="551.70" stroke="#231f20" stroke-width="1.0" />
<line x1="519.90" y1="548.20" x2="519.90" y2="551.70" stroke="#231f20" stroke-width="1.0" />
<line x1="554.45" y1="548.20" x2="554.45" y2="551.70" stroke="#231f20" stroke-width="1.0" />
<line x1="589.00" y1="548.20" x2="589.00" y2="551.70" stroke="#231f20" stroke-width="1.0" />
<line x1="594.80" y1="548.20" x2="594.80" y2="551.70" stroke="#231f20" stroke-width="1.0" />
<line x1="629.15" y1="548.20" x2="629.15" y2="551.70" stroke="#231f20" stroke-width="1.0" />
<line x1="663.50" y1="548.20" x2="663.50" y2="551.70" stroke="#231f20" stroke-width="1.0" />
<text x="0.00" y="0.00" font-size="8.7" text-anchor="start" textLength="30.40" lengthAdjust="spacingAndGlyphs" fill="#231f20" stroke="#231f20" stroke-width="0.12" transform="translate(410.9,534.6) rotate(-90)">Andesite</text>
<text x="0.00" y="0.00" font-size="8.3" text-anchor="start" textLength="32.20" lengthAdjust="spacingAndGlyphs" fill="#231f20" stroke="#231f20" stroke-width="0.12" transform="translate(419.0,534.4) rotate(-90)">host rock</text>
<text x="429.41" y="502.90" font-size="7.2" text-anchor="start" font-style="italic" textLength="7.68" lengthAdjust="spacingAndGlyphs" fill="#231f20" stroke="#231f20" stroke-width="0.12">A2</text>
<text x="429.39" y="525.60" font-size="7.2" text-anchor="start" font-style="italic" textLength="7.21" lengthAdjust="spacingAndGlyphs" fill="#231f20" stroke="#231f20" stroke-width="0.12">A1</text>
<rect x="445.60" y="500.70" width="42.10" height="3.00" fill="#e8000f" stroke="#9a0008" stroke-width="0.6" />
<rect x="520.20" y="500.70" width="32.40" height="3.00" fill="#e8000f" stroke="#9a0008" stroke-width="0.6" />
<rect x="595.00" y="500.70" width="59.70" height="3.00" fill="#e8000f" stroke="#9a0008" stroke-width="0.6" />
<rect x="445.60" y="522.10" width="49.00" height="3.00" fill="#f5a01d" stroke="#a86400" stroke-width="0.6" />
<rect x="520.20" y="522.00" width="27.20" height="3.00" fill="#f5a01d" stroke="#a86400" stroke-width="0.6" />
<rect x="595.00" y="522.10" width="66.30" height="3.00" fill="#f5a01d" stroke="#a86400" stroke-width="0.6" />
<text x="444.79" y="565.80" font-size="7.2" text-anchor="start" textLength="4.42" lengthAdjust="spacingAndGlyphs" fill="#231f20" stroke="#231f20" stroke-width="0.12" >0</text>
<text x="473.52" y="565.80" font-size="7.2" text-anchor="start" textLength="10.70" lengthAdjust="spacingAndGlyphs" fill="#231f20" stroke="#231f20" stroke-width="0.12" >4.5</text>
<text x="511.58" y="565.80" font-size="7.2" text-anchor="start" textLength="3.85" lengthAdjust="spacingAndGlyphs" fill="#231f20" stroke="#231f20" stroke-width="0.12" >9</text>
<text x="519.17" y="565.80" font-size="7.2" text-anchor="start" textLength="4.65" lengthAdjust="spacingAndGlyphs" fill="#231f20" stroke="#231f20" stroke-width="0.12" >0</text>
<text x="547.81" y="565.80" font-size="7.2" text-anchor="start" textLength="14.61" lengthAdjust="spacingAndGlyphs" fill="#231f20" stroke="#231f20" stroke-width="0.12" >0.35</text>
<text x="577.76" y="565.80" font-size="7.2" text-anchor="start" textLength="10.15" lengthAdjust="spacingAndGlyphs" fill="#231f20" stroke="#231f20" stroke-width="0.12" >0.7</text>
<text x="593.59" y="565.80" font-size="7.2" text-anchor="start" textLength="4.42" lengthAdjust="spacingAndGlyphs" fill="#231f20" stroke="#231f20" stroke-width="0.12" >0</text>
<text x="623.46" y="565.80" font-size="7.2" text-anchor="start" textLength="8.63" lengthAdjust="spacingAndGlyphs" fill="#231f20" stroke="#231f20" stroke-width="0.12" >26</text>
<text x="655.09" y="565.80" font-size="7.2" text-anchor="start" textLength="8.71" lengthAdjust="spacingAndGlyphs" fill="#231f20" stroke="#231f20" stroke-width="0.12" >52</text>
<text x="462.16" y="581.40" font-size="10.9" text-anchor="start" textLength="41.69" lengthAdjust="spacingAndGlyphs" fill="#231f20" stroke="#231f20" stroke-width="0.12" >Ti (wt.%)</text>
<text x="536.25" y="581.40" font-size="10.9" text-anchor="start" textLength="41.63" lengthAdjust="spacingAndGlyphs" fill="#231f20" stroke="#231f20" stroke-width="0.12" >V (wt.%)</text>
<text x="607.05" y="580.40" font-size="10.9" text-anchor="start" textLength="46.02" lengthAdjust="spacingAndGlyphs" fill="#231f20" stroke="#231f20" stroke-width="0.12" >Ga (ppm)</text>
</svg></body></html>
